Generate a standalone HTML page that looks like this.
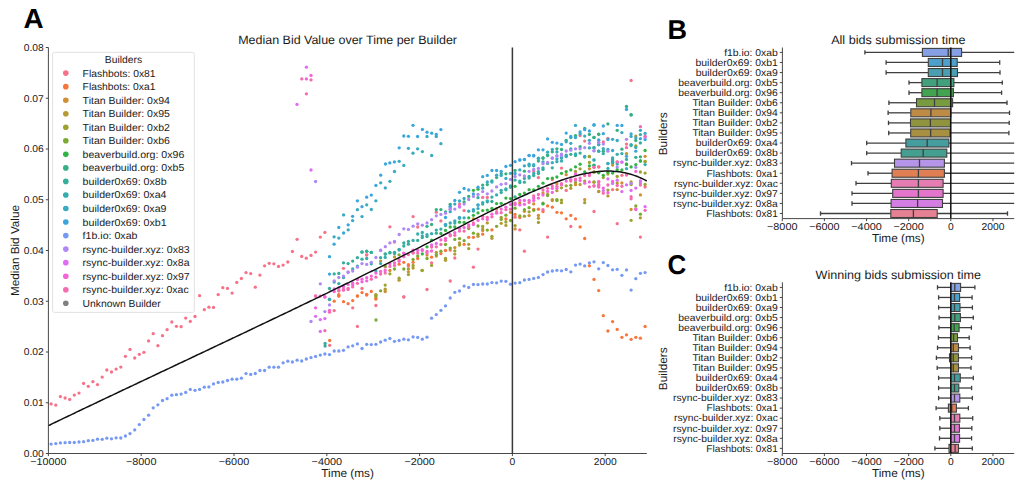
<!DOCTYPE html>
<html><head><meta charset="utf-8"><title>Median Bid Value over Time per Builder</title>
<style>html,body{margin:0;padding:0;background:#fff;overflow:hidden} svg{display:block} text{font-family:"Liberation Sans",sans-serif;text-rendering:geometricPrecision}</style>
</head><body>
<svg width="1024" height="490" viewBox="0 0 1024 490" font-family="Liberation Sans, sans-serif"><text x="23.60" y="27.60" font-size="27.56" text-anchor="start" font-weight="bold" textLength="20.12" lengthAdjust="spacingAndGlyphs" fill="#000">A</text>
<text x="347.60" y="44.20" font-size="12.18" text-anchor="middle" textLength="218.79" lengthAdjust="spacingAndGlyphs" fill="#1a1a1a">Median Bid Value over Time per Builder</text>
<g><circle cx="51.1" cy="403.9" r="1.65" fill="#f77189"/><circle cx="55.8" cy="405.1" r="1.65" fill="#f77189"/><circle cx="60.4" cy="396.6" r="1.65" fill="#f77189"/><circle cx="65.1" cy="398.0" r="1.65" fill="#f77189"/><circle cx="69.7" cy="399.4" r="1.65" fill="#f77189"/><circle cx="74.3" cy="395.1" r="1.65" fill="#f77189"/><circle cx="79.0" cy="393.1" r="1.65" fill="#f77189"/><circle cx="83.6" cy="383.4" r="1.65" fill="#f77189"/><circle cx="88.3" cy="386.3" r="1.65" fill="#f77189"/><circle cx="92.9" cy="381.7" r="1.65" fill="#f77189"/><circle cx="97.5" cy="384.6" r="1.65" fill="#f77189"/><circle cx="102.2" cy="377.1" r="1.65" fill="#f77189"/><circle cx="106.8" cy="370.0" r="1.65" fill="#f77189"/><circle cx="111.5" cy="372.0" r="1.65" fill="#f77189"/><circle cx="116.1" cy="369.1" r="1.65" fill="#f77189"/><circle cx="120.8" cy="367.1" r="1.65" fill="#f77189"/><circle cx="125.4" cy="356.3" r="1.65" fill="#f77189"/><circle cx="130.0" cy="349.4" r="1.65" fill="#f77189"/><circle cx="134.7" cy="358.0" r="1.65" fill="#f77189"/><circle cx="139.3" cy="354.3" r="1.65" fill="#f77189"/><circle cx="143.9" cy="352.3" r="1.65" fill="#f77189"/><circle cx="148.6" cy="340.9" r="1.65" fill="#f77189"/><circle cx="153.2" cy="333.7" r="1.65" fill="#f77189"/><circle cx="157.9" cy="345.7" r="1.65" fill="#f77189"/><circle cx="162.5" cy="335.7" r="1.65" fill="#f77189"/><circle cx="167.1" cy="329.7" r="1.65" fill="#f77189"/><circle cx="171.8" cy="322.0" r="1.65" fill="#f77189"/><circle cx="176.4" cy="326.3" r="1.65" fill="#f77189"/><circle cx="181.1" cy="326.7" r="1.65" fill="#f77189"/><circle cx="185.7" cy="318.1" r="1.65" fill="#f77189"/><circle cx="190.3" cy="321.4" r="1.65" fill="#f77189"/><circle cx="195.0" cy="316.5" r="1.65" fill="#f77189"/><circle cx="199.6" cy="295.7" r="1.65" fill="#f77189"/><circle cx="204.3" cy="309.7" r="1.65" fill="#f77189"/><circle cx="208.9" cy="307.2" r="1.65" fill="#f77189"/><circle cx="213.5" cy="307.4" r="1.65" fill="#f77189"/><circle cx="218.2" cy="294.6" r="1.65" fill="#f77189"/><circle cx="222.8" cy="287.7" r="1.65" fill="#f77189"/><circle cx="227.5" cy="288.4" r="1.65" fill="#f77189"/><circle cx="232.1" cy="293.1" r="1.65" fill="#f77189"/><circle cx="236.8" cy="282.4" r="1.65" fill="#f77189"/><circle cx="241.4" cy="278.5" r="1.65" fill="#f77189"/><circle cx="246.0" cy="272.6" r="1.65" fill="#f77189"/><circle cx="250.7" cy="273.6" r="1.65" fill="#f77189"/><circle cx="255.3" cy="287.2" r="1.65" fill="#f77189"/><circle cx="259.9" cy="275.1" r="1.65" fill="#f77189"/><circle cx="264.6" cy="265.8" r="1.65" fill="#f77189"/><circle cx="269.2" cy="263.3" r="1.65" fill="#f77189"/><circle cx="273.9" cy="263.8" r="1.65" fill="#f77189"/><circle cx="278.5" cy="266.4" r="1.65" fill="#f77189"/><circle cx="283.1" cy="265.1" r="1.65" fill="#f77189"/><circle cx="287.8" cy="262.0" r="1.65" fill="#f77189"/><circle cx="292.4" cy="251.5" r="1.65" fill="#f77189"/><circle cx="324.9" cy="232.4" r="1.65" fill="#f77189"/><circle cx="320.3" cy="237.1" r="1.65" fill="#f77189"/><circle cx="389.9" cy="226.8" r="1.65" fill="#f77189"/><circle cx="394.5" cy="242.1" r="1.65" fill="#f77189"/><circle cx="366.7" cy="255.0" r="1.65" fill="#f77189"/><circle cx="357.4" cy="326.4" r="1.65" fill="#f77189"/><circle cx="427.0" cy="289.5" r="1.65" fill="#f77189"/><circle cx="450.2" cy="281.0" r="1.65" fill="#f77189"/><circle cx="524.4" cy="251.2" r="1.65" fill="#f77189"/><circle cx="329.7" cy="345.3" r="1.65" fill="#f77189"/><circle cx="343.5" cy="268.3" r="1.65" fill="#f77189"/><circle cx="362.0" cy="288.5" r="1.65" fill="#f77189"/><circle cx="366.7" cy="254.8" r="1.65" fill="#f77189"/><circle cx="385.2" cy="266.9" r="1.65" fill="#f77189"/><circle cx="403.8" cy="297.0" r="1.65" fill="#f77189"/><circle cx="334.2" cy="310.6" r="1.65" fill="#f77189"/><circle cx="352.7" cy="307.8" r="1.65" fill="#f77189"/><circle cx="375.9" cy="305.5" r="1.65" fill="#f77189"/><circle cx="403.8" cy="296.8" r="1.65" fill="#f77189"/><circle cx="408.4" cy="266.0" r="1.65" fill="#f77189"/><circle cx="431.6" cy="262.8" r="1.65" fill="#f77189"/><circle cx="454.8" cy="258.0" r="1.65" fill="#f77189"/><circle cx="473.4" cy="267.2" r="1.65" fill="#f77189"/><circle cx="413.1" cy="216.6" r="1.65" fill="#f77189"/><circle cx="417.7" cy="227.0" r="1.65" fill="#f77189"/><circle cx="436.3" cy="212.2" r="1.65" fill="#f77189"/><circle cx="440.9" cy="220.9" r="1.65" fill="#f77189"/><circle cx="464.1" cy="210.6" r="1.65" fill="#f77189"/><circle cx="478.0" cy="249.1" r="1.65" fill="#f77189"/><circle cx="459.5" cy="204.1" r="1.65" fill="#f77189"/><circle cx="482.7" cy="197.4" r="1.65" fill="#f77189"/><circle cx="487.3" cy="197.4" r="1.65" fill="#f77189"/><circle cx="580.1" cy="135.6" r="1.65" fill="#f77189"/><circle cx="584.7" cy="141.1" r="1.65" fill="#f77189"/><circle cx="533.7" cy="171.0" r="1.65" fill="#f77189"/><circle cx="538.4" cy="177.6" r="1.65" fill="#f77189"/><circle cx="552.3" cy="179.6" r="1.65" fill="#f77189"/><circle cx="561.5" cy="168.1" r="1.65" fill="#f77189"/><circle cx="566.2" cy="190.4" r="1.65" fill="#f77189"/><circle cx="598.7" cy="166.8" r="1.65" fill="#f77189"/><circle cx="515.1" cy="217.2" r="1.65" fill="#f77189"/><circle cx="519.8" cy="229.9" r="1.65" fill="#f77189"/><circle cx="547.6" cy="237.1" r="1.65" fill="#f77189"/><circle cx="570.8" cy="226.5" r="1.65" fill="#f77189"/><circle cx="594.0" cy="211.5" r="1.65" fill="#f77189"/><circle cx="631.1" cy="80.5" r="1.65" fill="#f77189"/><circle cx="626.5" cy="144.1" r="1.65" fill="#f77189"/><circle cx="603.3" cy="142.0" r="1.65" fill="#f77189"/><circle cx="607.9" cy="138.3" r="1.65" fill="#f77189"/><circle cx="617.2" cy="162.1" r="1.65" fill="#f77189"/><circle cx="598.7" cy="166.9" r="1.65" fill="#f77189"/><circle cx="612.6" cy="189.6" r="1.65" fill="#f77189"/><circle cx="621.9" cy="175.3" r="1.65" fill="#f77189"/><circle cx="635.8" cy="208.8" r="1.65" fill="#f77189"/><circle cx="645.1" cy="187.0" r="1.65" fill="#f77189"/><circle cx="617.2" cy="223.7" r="1.65" fill="#f77189"/><circle cx="640.4" cy="237.1" r="1.65" fill="#f77189"/><circle cx="297.1" cy="239.3" r="1.65" fill="#f77189"/><circle cx="301.7" cy="256.4" r="1.65" fill="#f77189"/><circle cx="306.3" cy="258.2" r="1.65" fill="#f77189"/><circle cx="311.0" cy="255.4" r="1.65" fill="#f77189"/><circle cx="315.6" cy="252.1" r="1.65" fill="#f77189"/><circle cx="589.4" cy="265.8" r="1.65" fill="#f8763b"/><circle cx="594.0" cy="279.4" r="1.65" fill="#f8763b"/><circle cx="598.7" cy="290.6" r="1.65" fill="#f8763b"/><circle cx="603.3" cy="315.7" r="1.65" fill="#f8763b"/><circle cx="607.9" cy="331.0" r="1.65" fill="#f8763b"/><circle cx="612.6" cy="321.6" r="1.65" fill="#f8763b"/><circle cx="617.2" cy="329.4" r="1.65" fill="#f8763b"/><circle cx="621.9" cy="337.3" r="1.65" fill="#f8763b"/><circle cx="626.5" cy="334.8" r="1.65" fill="#f8763b"/><circle cx="631.1" cy="339.3" r="1.65" fill="#f8763b"/><circle cx="635.8" cy="337.3" r="1.65" fill="#f8763b"/><circle cx="640.4" cy="338.2" r="1.65" fill="#f8763b"/><circle cx="645.1" cy="326.5" r="1.65" fill="#f8763b"/><circle cx="329.7" cy="340.5" r="1.65" fill="#f8763b"/><circle cx="338.8" cy="294.6" r="1.65" fill="#f8763b"/><circle cx="338.8" cy="296.1" r="1.65" fill="#f8763b"/><circle cx="357.4" cy="296.1" r="1.65" fill="#f8763b"/><circle cx="362.0" cy="292.6" r="1.65" fill="#f8763b"/><circle cx="366.7" cy="294.3" r="1.65" fill="#f8763b"/><circle cx="371.3" cy="291.5" r="1.65" fill="#f8763b"/><circle cx="375.9" cy="299.0" r="1.65" fill="#f8763b"/><circle cx="399.1" cy="264.2" r="1.65" fill="#f8763b"/><circle cx="403.8" cy="262.3" r="1.65" fill="#f8763b"/><circle cx="334.2" cy="301.2" r="1.65" fill="#f8763b"/><circle cx="338.8" cy="295.8" r="1.65" fill="#f8763b"/><circle cx="343.5" cy="301.7" r="1.65" fill="#f8763b"/><circle cx="348.1" cy="303.7" r="1.65" fill="#f8763b"/><circle cx="352.7" cy="300.6" r="1.65" fill="#f8763b"/><circle cx="357.4" cy="296.0" r="1.65" fill="#f8763b"/><circle cx="366.7" cy="295.0" r="1.65" fill="#f8763b"/><circle cx="375.9" cy="298.6" r="1.65" fill="#f8763b"/><circle cx="408.4" cy="264.7" r="1.65" fill="#f8763b"/><circle cx="413.1" cy="262.3" r="1.65" fill="#f8763b"/><circle cx="417.7" cy="258.5" r="1.65" fill="#f8763b"/><circle cx="431.6" cy="257.2" r="1.65" fill="#f8763b"/><circle cx="440.9" cy="253.6" r="1.65" fill="#f8763b"/><circle cx="445.5" cy="250.5" r="1.65" fill="#f8763b"/><circle cx="450.2" cy="250.0" r="1.65" fill="#f8763b"/><circle cx="464.1" cy="244.3" r="1.65" fill="#f8763b"/><circle cx="468.7" cy="237.3" r="1.65" fill="#f8763b"/><circle cx="473.4" cy="237.3" r="1.65" fill="#f8763b"/><circle cx="482.7" cy="234.2" r="1.65" fill="#f8763b"/><circle cx="491.9" cy="229.9" r="1.65" fill="#f8763b"/><circle cx="505.9" cy="219.0" r="1.65" fill="#f8763b"/><circle cx="515.1" cy="214.4" r="1.65" fill="#f8763b"/><circle cx="519.8" cy="217.6" r="1.65" fill="#f8763b"/><circle cx="533.7" cy="209.4" r="1.65" fill="#f8763b"/><circle cx="538.4" cy="209.2" r="1.65" fill="#f8763b"/><circle cx="543.0" cy="211.5" r="1.65" fill="#f8763b"/><circle cx="547.6" cy="205.9" r="1.65" fill="#f8763b"/><circle cx="552.3" cy="207.2" r="1.65" fill="#f8763b"/><circle cx="556.9" cy="212.3" r="1.65" fill="#f8763b"/><circle cx="561.5" cy="212.8" r="1.65" fill="#f8763b"/><circle cx="566.2" cy="218.8" r="1.65" fill="#f8763b"/><circle cx="570.8" cy="215.4" r="1.65" fill="#f8763b"/><circle cx="575.5" cy="218.8" r="1.65" fill="#f8763b"/><circle cx="580.1" cy="226.9" r="1.65" fill="#f8763b"/><circle cx="584.7" cy="238.5" r="1.65" fill="#f8763b"/><circle cx="385.2" cy="291.5" r="1.65" fill="#d28e32"/><circle cx="389.9" cy="270.5" r="1.65" fill="#d28e32"/><circle cx="408.4" cy="271.8" r="1.65" fill="#d28e32"/><circle cx="427.0" cy="255.1" r="1.65" fill="#d28e32"/><circle cx="454.8" cy="247.6" r="1.65" fill="#d28e32"/><circle cx="473.4" cy="218.8" r="1.65" fill="#d28e32"/><circle cx="482.7" cy="230.6" r="1.65" fill="#d28e32"/><circle cx="543.0" cy="193.0" r="1.65" fill="#d28e32"/><circle cx="556.9" cy="183.7" r="1.65" fill="#d28e32"/><circle cx="566.2" cy="174.7" r="1.65" fill="#d28e32"/><circle cx="575.5" cy="184.7" r="1.65" fill="#d28e32"/><circle cx="584.7" cy="199.6" r="1.65" fill="#d28e32"/><circle cx="589.4" cy="168.8" r="1.65" fill="#d28e32"/><circle cx="510.5" cy="212.3" r="1.65" fill="#d28e32"/><circle cx="515.1" cy="228.9" r="1.65" fill="#d28e32"/><circle cx="519.8" cy="202.9" r="1.65" fill="#d28e32"/><circle cx="524.4" cy="211.3" r="1.65" fill="#d28e32"/><circle cx="529.1" cy="215.6" r="1.65" fill="#d28e32"/><circle cx="533.7" cy="203.9" r="1.65" fill="#d28e32"/><circle cx="538.4" cy="215.4" r="1.65" fill="#d28e32"/><circle cx="552.3" cy="200.5" r="1.65" fill="#d28e32"/><circle cx="645.1" cy="156.3" r="1.65" fill="#d28e32"/><circle cx="617.2" cy="189.6" r="1.65" fill="#d28e32"/><circle cx="621.9" cy="183.0" r="1.65" fill="#d28e32"/><circle cx="631.1" cy="209.5" r="1.65" fill="#d28e32"/><circle cx="640.4" cy="194.9" r="1.65" fill="#d28e32"/><circle cx="380.6" cy="261.1" r="1.65" fill="#b79932"/><circle cx="385.2" cy="289.2" r="1.65" fill="#b79932"/><circle cx="394.5" cy="257.0" r="1.65" fill="#b79932"/><circle cx="399.1" cy="280.2" r="1.65" fill="#b79932"/><circle cx="413.1" cy="268.0" r="1.65" fill="#b79932"/><circle cx="436.3" cy="252.3" r="1.65" fill="#b79932"/><circle cx="436.3" cy="256.0" r="1.65" fill="#b79932"/><circle cx="445.5" cy="260.3" r="1.65" fill="#b79932"/><circle cx="454.8" cy="254.1" r="1.65" fill="#b79932"/><circle cx="459.5" cy="242.9" r="1.65" fill="#b79932"/><circle cx="468.7" cy="244.3" r="1.65" fill="#b79932"/><circle cx="478.0" cy="236.3" r="1.65" fill="#b79932"/><circle cx="482.7" cy="229.1" r="1.65" fill="#b79932"/><circle cx="487.3" cy="222.9" r="1.65" fill="#b79932"/><circle cx="491.9" cy="238.3" r="1.65" fill="#b79932"/><circle cx="496.6" cy="208.6" r="1.65" fill="#b79932"/><circle cx="501.2" cy="223.3" r="1.65" fill="#b79932"/><circle cx="552.3" cy="199.6" r="1.65" fill="#b79932"/><circle cx="556.9" cy="190.7" r="1.65" fill="#b79932"/><circle cx="570.8" cy="188.3" r="1.65" fill="#b79932"/><circle cx="580.1" cy="184.5" r="1.65" fill="#b79932"/><circle cx="594.0" cy="182.2" r="1.65" fill="#b79932"/><circle cx="598.7" cy="191.4" r="1.65" fill="#b79932"/><circle cx="505.9" cy="225.4" r="1.65" fill="#b79932"/><circle cx="538.4" cy="218.3" r="1.65" fill="#b79932"/><circle cx="626.5" cy="153.6" r="1.65" fill="#b79932"/><circle cx="635.8" cy="136.1" r="1.65" fill="#b79932"/><circle cx="598.7" cy="191.6" r="1.65" fill="#b79932"/><circle cx="607.9" cy="195.9" r="1.65" fill="#b79932"/><circle cx="612.6" cy="165.1" r="1.65" fill="#b79932"/><circle cx="617.2" cy="183.0" r="1.65" fill="#b79932"/><circle cx="631.1" cy="181.9" r="1.65" fill="#b79932"/><circle cx="640.4" cy="217.8" r="1.65" fill="#b79932"/><circle cx="422.0" cy="270.5" r="1.65" fill="#9ea231"/><circle cx="375.9" cy="294.6" r="1.65" fill="#9ea231"/><circle cx="375.9" cy="296.7" r="1.65" fill="#9ea231"/><circle cx="385.2" cy="285.1" r="1.65" fill="#9ea231"/><circle cx="389.9" cy="273.8" r="1.65" fill="#9ea231"/><circle cx="399.1" cy="278.2" r="1.65" fill="#9ea231"/><circle cx="375.9" cy="295.5" r="1.65" fill="#9ea231"/><circle cx="408.4" cy="269.0" r="1.65" fill="#9ea231"/><circle cx="408.4" cy="274.6" r="1.65" fill="#9ea231"/><circle cx="413.1" cy="265.4" r="1.65" fill="#9ea231"/><circle cx="422.3" cy="270.3" r="1.65" fill="#9ea231"/><circle cx="431.6" cy="265.4" r="1.65" fill="#9ea231"/><circle cx="445.5" cy="258.5" r="1.65" fill="#9ea231"/><circle cx="454.8" cy="250.8" r="1.65" fill="#9ea231"/><circle cx="459.5" cy="245.0" r="1.65" fill="#9ea231"/><circle cx="468.7" cy="248.6" r="1.65" fill="#9ea231"/><circle cx="478.0" cy="234.2" r="1.65" fill="#9ea231"/><circle cx="482.7" cy="226.5" r="1.65" fill="#9ea231"/><circle cx="491.9" cy="236.3" r="1.65" fill="#9ea231"/><circle cx="501.2" cy="217.3" r="1.65" fill="#9ea231"/><circle cx="589.4" cy="156.7" r="1.65" fill="#9ea231"/><circle cx="543.0" cy="203.2" r="1.65" fill="#9ea231"/><circle cx="547.6" cy="194.5" r="1.65" fill="#9ea231"/><circle cx="561.5" cy="187.8" r="1.65" fill="#9ea231"/><circle cx="561.5" cy="200.1" r="1.65" fill="#9ea231"/><circle cx="561.5" cy="202.7" r="1.65" fill="#9ea231"/><circle cx="566.2" cy="185.8" r="1.65" fill="#9ea231"/><circle cx="575.5" cy="171.4" r="1.65" fill="#9ea231"/><circle cx="575.5" cy="182.5" r="1.65" fill="#9ea231"/><circle cx="580.1" cy="168.8" r="1.65" fill="#9ea231"/><circle cx="584.7" cy="181.1" r="1.65" fill="#9ea231"/><circle cx="584.7" cy="202.7" r="1.65" fill="#9ea231"/><circle cx="589.4" cy="156.5" r="1.65" fill="#9ea231"/><circle cx="589.4" cy="162.4" r="1.65" fill="#9ea231"/><circle cx="594.0" cy="171.9" r="1.65" fill="#9ea231"/><circle cx="505.9" cy="222.0" r="1.65" fill="#9ea231"/><circle cx="515.1" cy="225.6" r="1.65" fill="#9ea231"/><circle cx="524.4" cy="216.2" r="1.65" fill="#9ea231"/><circle cx="529.1" cy="211.8" r="1.65" fill="#9ea231"/><circle cx="538.4" cy="222.4" r="1.65" fill="#9ea231"/><circle cx="635.8" cy="146.0" r="1.65" fill="#9ea231"/><circle cx="645.1" cy="161.7" r="1.65" fill="#9ea231"/><circle cx="594.0" cy="172.2" r="1.65" fill="#9ea231"/><circle cx="594.0" cy="181.9" r="1.65" fill="#9ea231"/><circle cx="603.3" cy="177.6" r="1.65" fill="#9ea231"/><circle cx="607.9" cy="174.1" r="1.65" fill="#9ea231"/><circle cx="607.9" cy="190.1" r="1.65" fill="#9ea231"/><circle cx="617.2" cy="176.5" r="1.65" fill="#9ea231"/><circle cx="631.1" cy="184.5" r="1.65" fill="#9ea231"/><circle cx="640.4" cy="172.0" r="1.65" fill="#9ea231"/><circle cx="645.1" cy="161.5" r="1.65" fill="#9ea231"/><circle cx="645.1" cy="173.1" r="1.65" fill="#9ea231"/><circle cx="645.1" cy="184.5" r="1.65" fill="#9ea231"/><circle cx="631.1" cy="220.3" r="1.65" fill="#9ea231"/><circle cx="376.0" cy="320.0" r="1.65" fill="#7caa31"/><circle cx="380.6" cy="290.8" r="1.65" fill="#7caa31"/><circle cx="385.2" cy="265.9" r="1.65" fill="#7caa31"/><circle cx="394.5" cy="269.0" r="1.65" fill="#7caa31"/><circle cx="399.1" cy="254.8" r="1.65" fill="#7caa31"/><circle cx="403.8" cy="269.0" r="1.65" fill="#7caa31"/><circle cx="413.1" cy="259.4" r="1.65" fill="#7caa31"/><circle cx="417.7" cy="256.0" r="1.65" fill="#7caa31"/><circle cx="427.0" cy="258.5" r="1.65" fill="#7caa31"/><circle cx="436.3" cy="254.6" r="1.65" fill="#7caa31"/><circle cx="440.9" cy="251.2" r="1.65" fill="#7caa31"/><circle cx="445.5" cy="244.5" r="1.65" fill="#7caa31"/><circle cx="450.2" cy="248.1" r="1.65" fill="#7caa31"/><circle cx="454.8" cy="239.4" r="1.65" fill="#7caa31"/><circle cx="459.5" cy="238.6" r="1.65" fill="#7caa31"/><circle cx="464.1" cy="240.7" r="1.65" fill="#7caa31"/><circle cx="468.7" cy="228.6" r="1.65" fill="#7caa31"/><circle cx="473.4" cy="233.2" r="1.65" fill="#7caa31"/><circle cx="478.0" cy="226.0" r="1.65" fill="#7caa31"/><circle cx="487.3" cy="230.1" r="1.65" fill="#7caa31"/><circle cx="496.6" cy="226.3" r="1.65" fill="#7caa31"/><circle cx="501.2" cy="219.4" r="1.65" fill="#7caa31"/><circle cx="547.6" cy="195.6" r="1.65" fill="#7caa31"/><circle cx="556.9" cy="199.6" r="1.65" fill="#7caa31"/><circle cx="570.8" cy="185.3" r="1.65" fill="#7caa31"/><circle cx="505.9" cy="215.2" r="1.65" fill="#7caa31"/><circle cx="510.5" cy="220.5" r="1.65" fill="#7caa31"/><circle cx="515.1" cy="208.2" r="1.65" fill="#7caa31"/><circle cx="519.8" cy="215.9" r="1.65" fill="#7caa31"/><circle cx="524.4" cy="209.7" r="1.65" fill="#7caa31"/><circle cx="529.1" cy="207.7" r="1.65" fill="#7caa31"/><circle cx="533.7" cy="210.3" r="1.65" fill="#7caa31"/><circle cx="556.9" cy="200.5" r="1.65" fill="#7caa31"/><circle cx="635.8" cy="205.9" r="1.65" fill="#7caa31"/><circle cx="640.4" cy="214.2" r="1.65" fill="#7caa31"/><circle cx="422.3" cy="253.9" r="1.65" fill="#31b345"/><circle cx="427.0" cy="246.8" r="1.65" fill="#31b345"/><circle cx="431.6" cy="240.1" r="1.65" fill="#31b345"/><circle cx="440.9" cy="233.5" r="1.65" fill="#31b345"/><circle cx="445.5" cy="230.4" r="1.65" fill="#31b345"/><circle cx="450.2" cy="227.0" r="1.65" fill="#31b345"/><circle cx="454.8" cy="227.0" r="1.65" fill="#31b345"/><circle cx="459.5" cy="222.2" r="1.65" fill="#31b345"/><circle cx="464.1" cy="222.4" r="1.65" fill="#31b345"/><circle cx="468.7" cy="217.8" r="1.65" fill="#31b345"/><circle cx="473.4" cy="215.3" r="1.65" fill="#31b345"/><circle cx="478.0" cy="212.9" r="1.65" fill="#31b345"/><circle cx="482.7" cy="210.6" r="1.65" fill="#31b345"/><circle cx="487.3" cy="210.1" r="1.65" fill="#31b345"/><circle cx="491.9" cy="208.4" r="1.65" fill="#31b345"/><circle cx="473.4" cy="190.3" r="1.65" fill="#31b345"/><circle cx="478.0" cy="189.2" r="1.65" fill="#31b345"/><circle cx="496.6" cy="203.6" r="1.65" fill="#31b345"/><circle cx="501.2" cy="203.3" r="1.65" fill="#31b345"/><circle cx="505.9" cy="198.1" r="1.65" fill="#31b345"/><circle cx="510.5" cy="198.6" r="1.65" fill="#31b345"/><circle cx="515.1" cy="186.3" r="1.65" fill="#31b345"/><circle cx="519.8" cy="194.5" r="1.65" fill="#31b345"/><circle cx="524.4" cy="193.1" r="1.65" fill="#31b345"/><circle cx="529.1" cy="189.7" r="1.65" fill="#31b345"/><circle cx="533.7" cy="189.9" r="1.65" fill="#31b345"/><circle cx="538.4" cy="186.3" r="1.65" fill="#31b345"/><circle cx="543.0" cy="183.2" r="1.65" fill="#31b345"/><circle cx="547.6" cy="178.6" r="1.65" fill="#31b345"/><circle cx="552.3" cy="178.1" r="1.65" fill="#31b345"/><circle cx="556.9" cy="177.0" r="1.65" fill="#31b345"/><circle cx="561.5" cy="173.3" r="1.65" fill="#31b345"/><circle cx="566.2" cy="171.6" r="1.65" fill="#31b345"/><circle cx="570.8" cy="169.9" r="1.65" fill="#31b345"/><circle cx="575.5" cy="166.8" r="1.65" fill="#31b345"/><circle cx="580.1" cy="164.2" r="1.65" fill="#31b345"/><circle cx="584.7" cy="171.9" r="1.65" fill="#31b345"/><circle cx="589.4" cy="165.8" r="1.65" fill="#31b345"/><circle cx="594.0" cy="165.3" r="1.65" fill="#31b345"/><circle cx="598.7" cy="172.4" r="1.65" fill="#31b345"/><circle cx="543.0" cy="203.9" r="1.65" fill="#31b345"/><circle cx="626.5" cy="164.0" r="1.65" fill="#31b345"/><circle cx="640.4" cy="160.9" r="1.65" fill="#31b345"/><circle cx="645.1" cy="150.5" r="1.65" fill="#31b345"/><circle cx="598.7" cy="172.8" r="1.65" fill="#31b345"/><circle cx="603.3" cy="175.3" r="1.65" fill="#31b345"/><circle cx="607.9" cy="172.2" r="1.65" fill="#31b345"/><circle cx="612.6" cy="173.1" r="1.65" fill="#31b345"/><circle cx="617.2" cy="169.7" r="1.65" fill="#31b345"/><circle cx="621.9" cy="170.0" r="1.65" fill="#31b345"/><circle cx="626.5" cy="164.6" r="1.65" fill="#31b345"/><circle cx="631.1" cy="166.9" r="1.65" fill="#31b345"/><circle cx="635.8" cy="164.6" r="1.65" fill="#31b345"/><circle cx="640.4" cy="161.0" r="1.65" fill="#31b345"/><circle cx="427.0" cy="226.3" r="1.65" fill="#34b081"/><circle cx="431.6" cy="224.5" r="1.65" fill="#34b081"/><circle cx="436.3" cy="209.6" r="1.65" fill="#34b081"/><circle cx="440.9" cy="209.6" r="1.65" fill="#34b081"/><circle cx="445.5" cy="212.0" r="1.65" fill="#34b081"/><circle cx="450.2" cy="204.3" r="1.65" fill="#34b081"/><circle cx="464.1" cy="202.0" r="1.65" fill="#34b081"/><circle cx="468.7" cy="196.4" r="1.65" fill="#34b081"/><circle cx="482.7" cy="185.1" r="1.65" fill="#34b081"/><circle cx="487.3" cy="184.6" r="1.65" fill="#34b081"/><circle cx="491.9" cy="181.0" r="1.65" fill="#34b081"/><circle cx="496.6" cy="177.6" r="1.65" fill="#34b081"/><circle cx="501.2" cy="173.8" r="1.65" fill="#34b081"/><circle cx="543.0" cy="158.0" r="1.65" fill="#34b081"/><circle cx="547.6" cy="155.1" r="1.65" fill="#34b081"/><circle cx="552.3" cy="151.8" r="1.65" fill="#34b081"/><circle cx="556.9" cy="148.8" r="1.65" fill="#34b081"/><circle cx="561.5" cy="149.5" r="1.65" fill="#34b081"/><circle cx="566.2" cy="140.3" r="1.65" fill="#34b081"/><circle cx="570.8" cy="137.6" r="1.65" fill="#34b081"/><circle cx="575.5" cy="135.6" r="1.65" fill="#34b081"/><circle cx="580.1" cy="146.7" r="1.65" fill="#34b081"/><circle cx="584.7" cy="128.3" r="1.65" fill="#34b081"/><circle cx="584.7" cy="157.0" r="1.65" fill="#34b081"/><circle cx="589.4" cy="134.4" r="1.65" fill="#34b081"/><circle cx="594.0" cy="137.5" r="1.65" fill="#34b081"/><circle cx="598.7" cy="134.3" r="1.65" fill="#34b081"/><circle cx="505.9" cy="173.8" r="1.65" fill="#34b081"/><circle cx="515.1" cy="170.4" r="1.65" fill="#34b081"/><circle cx="515.1" cy="197.0" r="1.65" fill="#34b081"/><circle cx="524.4" cy="171.2" r="1.65" fill="#34b081"/><circle cx="538.4" cy="161.0" r="1.65" fill="#34b081"/><circle cx="543.0" cy="158.1" r="1.65" fill="#34b081"/><circle cx="547.6" cy="155.5" r="1.65" fill="#34b081"/><circle cx="631.1" cy="114.7" r="1.65" fill="#34b081"/><circle cx="631.1" cy="115.0" r="1.65" fill="#34b081"/><circle cx="626.5" cy="106.5" r="1.65" fill="#34b081"/><circle cx="594.0" cy="137.4" r="1.65" fill="#34b081"/><circle cx="598.7" cy="134.1" r="1.65" fill="#34b081"/><circle cx="603.3" cy="151.2" r="1.65" fill="#34b081"/><circle cx="607.9" cy="123.9" r="1.65" fill="#34b081"/><circle cx="612.6" cy="159.9" r="1.65" fill="#34b081"/><circle cx="617.2" cy="130.3" r="1.65" fill="#34b081"/><circle cx="621.9" cy="149.2" r="1.65" fill="#34b081"/><circle cx="635.8" cy="140.5" r="1.65" fill="#34b081"/><circle cx="640.4" cy="156.8" r="1.65" fill="#34b081"/><circle cx="594.0" cy="165.1" r="1.65" fill="#34b081"/><circle cx="362.0" cy="252.2" r="1.65" fill="#35ae9a"/><circle cx="366.7" cy="251.3" r="1.65" fill="#35ae9a"/><circle cx="371.3" cy="252.4" r="1.65" fill="#35ae9a"/><circle cx="399.2" cy="249.3" r="1.65" fill="#35ae9a"/><circle cx="389.9" cy="252.4" r="1.65" fill="#35ae9a"/><circle cx="394.5" cy="252.4" r="1.65" fill="#35ae9a"/><circle cx="385.3" cy="254.0" r="1.65" fill="#35ae9a"/><circle cx="403.8" cy="243.0" r="1.65" fill="#35ae9a"/><circle cx="403.8" cy="246.0" r="1.65" fill="#35ae9a"/><circle cx="325.1" cy="343.5" r="1.65" fill="#35ae9a"/><circle cx="325.1" cy="346.0" r="1.65" fill="#35ae9a"/><circle cx="329.5" cy="288.5" r="1.65" fill="#35ae9a"/><circle cx="334.2" cy="273.9" r="1.65" fill="#35ae9a"/><circle cx="338.8" cy="273.4" r="1.65" fill="#35ae9a"/><circle cx="343.5" cy="262.8" r="1.65" fill="#35ae9a"/><circle cx="348.1" cy="263.6" r="1.65" fill="#35ae9a"/><circle cx="352.7" cy="261.1" r="1.65" fill="#35ae9a"/><circle cx="357.4" cy="257.7" r="1.65" fill="#35ae9a"/><circle cx="362.0" cy="251.8" r="1.65" fill="#35ae9a"/><circle cx="362.0" cy="259.2" r="1.65" fill="#35ae9a"/><circle cx="366.7" cy="251.2" r="1.65" fill="#35ae9a"/><circle cx="371.3" cy="252.3" r="1.65" fill="#35ae9a"/><circle cx="380.6" cy="257.7" r="1.65" fill="#35ae9a"/><circle cx="385.2" cy="254.1" r="1.65" fill="#35ae9a"/><circle cx="389.9" cy="252.9" r="1.65" fill="#35ae9a"/><circle cx="394.5" cy="252.6" r="1.65" fill="#35ae9a"/><circle cx="408.4" cy="241.4" r="1.65" fill="#35ae9a"/><circle cx="408.4" cy="244.2" r="1.65" fill="#35ae9a"/><circle cx="417.7" cy="240.4" r="1.65" fill="#35ae9a"/><circle cx="422.3" cy="237.6" r="1.65" fill="#35ae9a"/><circle cx="427.0" cy="236.6" r="1.65" fill="#35ae9a"/><circle cx="436.3" cy="233.2" r="1.65" fill="#35ae9a"/><circle cx="478.0" cy="205.1" r="1.65" fill="#35ae9a"/><circle cx="482.7" cy="204.1" r="1.65" fill="#35ae9a"/><circle cx="487.3" cy="201.8" r="1.65" fill="#35ae9a"/><circle cx="491.9" cy="201.5" r="1.65" fill="#35ae9a"/><circle cx="501.2" cy="192.6" r="1.65" fill="#35ae9a"/><circle cx="566.2" cy="156.6" r="1.65" fill="#35ae9a"/><circle cx="570.8" cy="154.3" r="1.65" fill="#35ae9a"/><circle cx="575.5" cy="155.6" r="1.65" fill="#35ae9a"/><circle cx="580.1" cy="153.1" r="1.65" fill="#35ae9a"/><circle cx="505.9" cy="189.8" r="1.65" fill="#35ae9a"/><circle cx="510.5" cy="187.3" r="1.65" fill="#35ae9a"/><circle cx="519.8" cy="182.6" r="1.65" fill="#35ae9a"/><circle cx="524.4" cy="182.2" r="1.65" fill="#35ae9a"/><circle cx="529.1" cy="178.0" r="1.65" fill="#35ae9a"/><circle cx="533.7" cy="175.5" r="1.65" fill="#35ae9a"/><circle cx="538.4" cy="173.5" r="1.65" fill="#35ae9a"/><circle cx="543.0" cy="169.4" r="1.65" fill="#35ae9a"/><circle cx="631.1" cy="145.6" r="1.65" fill="#35ae9a"/><circle cx="594.0" cy="147.7" r="1.65" fill="#35ae9a"/><circle cx="598.7" cy="144.6" r="1.65" fill="#35ae9a"/><circle cx="612.6" cy="162.4" r="1.65" fill="#35ae9a"/><circle cx="635.8" cy="157.3" r="1.65" fill="#35ae9a"/><circle cx="640.4" cy="142.9" r="1.65" fill="#35ae9a"/><circle cx="612.6" cy="162.5" r="1.65" fill="#35ae9a"/><circle cx="329.5" cy="299.2" r="1.65" fill="#36acad"/><circle cx="334.2" cy="282.1" r="1.65" fill="#36acad"/><circle cx="338.8" cy="283.6" r="1.65" fill="#36acad"/><circle cx="343.5" cy="277.5" r="1.65" fill="#36acad"/><circle cx="352.7" cy="269.0" r="1.65" fill="#36acad"/><circle cx="357.4" cy="266.1" r="1.65" fill="#36acad"/><circle cx="366.7" cy="258.5" r="1.65" fill="#36acad"/><circle cx="371.3" cy="263.8" r="1.65" fill="#36acad"/><circle cx="375.9" cy="271.0" r="1.65" fill="#36acad"/><circle cx="380.6" cy="263.6" r="1.65" fill="#36acad"/><circle cx="385.2" cy="257.4" r="1.65" fill="#36acad"/><circle cx="394.5" cy="253.6" r="1.65" fill="#36acad"/><circle cx="399.1" cy="250.0" r="1.65" fill="#36acad"/><circle cx="329.5" cy="299.6" r="1.65" fill="#36acad"/><circle cx="413.1" cy="240.4" r="1.65" fill="#36acad"/><circle cx="417.7" cy="234.0" r="1.65" fill="#36acad"/><circle cx="422.3" cy="232.5" r="1.65" fill="#36acad"/><circle cx="422.3" cy="235.8" r="1.65" fill="#36acad"/><circle cx="427.0" cy="234.7" r="1.65" fill="#36acad"/><circle cx="431.6" cy="233.7" r="1.65" fill="#36acad"/><circle cx="436.3" cy="230.1" r="1.65" fill="#36acad"/><circle cx="440.9" cy="229.1" r="1.65" fill="#36acad"/><circle cx="445.5" cy="225.5" r="1.65" fill="#36acad"/><circle cx="450.2" cy="223.0" r="1.65" fill="#36acad"/><circle cx="454.8" cy="223.0" r="1.65" fill="#36acad"/><circle cx="459.5" cy="218.3" r="1.65" fill="#36acad"/><circle cx="473.4" cy="211.0" r="1.65" fill="#36acad"/><circle cx="478.0" cy="197.7" r="1.65" fill="#36acad"/><circle cx="482.7" cy="202.6" r="1.65" fill="#36acad"/><circle cx="487.3" cy="200.8" r="1.65" fill="#36acad"/><circle cx="491.9" cy="197.1" r="1.65" fill="#36acad"/><circle cx="496.6" cy="194.9" r="1.65" fill="#36acad"/><circle cx="501.2" cy="190.3" r="1.65" fill="#36acad"/><circle cx="538.4" cy="158.2" r="1.65" fill="#36acad"/><circle cx="561.5" cy="157.7" r="1.65" fill="#36acad"/><circle cx="566.2" cy="155.1" r="1.65" fill="#36acad"/><circle cx="570.8" cy="148.8" r="1.65" fill="#36acad"/><circle cx="575.5" cy="153.9" r="1.65" fill="#36acad"/><circle cx="589.4" cy="147.9" r="1.65" fill="#36acad"/><circle cx="594.0" cy="147.7" r="1.65" fill="#36acad"/><circle cx="598.7" cy="151.2" r="1.65" fill="#36acad"/><circle cx="505.9" cy="188.8" r="1.65" fill="#36acad"/><circle cx="510.5" cy="185.8" r="1.65" fill="#36acad"/><circle cx="515.1" cy="180.1" r="1.65" fill="#36acad"/><circle cx="519.8" cy="181.1" r="1.65" fill="#36acad"/><circle cx="524.4" cy="178.4" r="1.65" fill="#36acad"/><circle cx="529.1" cy="165.8" r="1.65" fill="#36acad"/><circle cx="529.1" cy="176.5" r="1.65" fill="#36acad"/><circle cx="533.7" cy="165.8" r="1.65" fill="#36acad"/><circle cx="533.7" cy="173.3" r="1.65" fill="#36acad"/><circle cx="538.4" cy="171.6" r="1.65" fill="#36acad"/><circle cx="543.0" cy="167.8" r="1.65" fill="#36acad"/><circle cx="547.6" cy="163.4" r="1.65" fill="#36acad"/><circle cx="552.3" cy="167.8" r="1.65" fill="#36acad"/><circle cx="556.9" cy="161.7" r="1.65" fill="#36acad"/><circle cx="561.5" cy="161.0" r="1.65" fill="#36acad"/><circle cx="631.1" cy="144.6" r="1.65" fill="#36acad"/><circle cx="626.5" cy="159.4" r="1.65" fill="#36acad"/><circle cx="594.0" cy="159.9" r="1.65" fill="#36acad"/><circle cx="598.7" cy="151.2" r="1.65" fill="#36acad"/><circle cx="603.3" cy="153.6" r="1.65" fill="#36acad"/><circle cx="607.9" cy="163.5" r="1.65" fill="#36acad"/><circle cx="612.6" cy="157.9" r="1.65" fill="#36acad"/><circle cx="617.2" cy="154.3" r="1.65" fill="#36acad"/><circle cx="621.9" cy="153.6" r="1.65" fill="#36acad"/><circle cx="635.8" cy="147.4" r="1.65" fill="#36acad"/><circle cx="640.4" cy="134.6" r="1.65" fill="#36acad"/><circle cx="607.9" cy="168.4" r="1.65" fill="#36acad"/><circle cx="612.6" cy="161.0" r="1.65" fill="#36acad"/><circle cx="617.2" cy="163.9" r="1.65" fill="#36acad"/><circle cx="645.1" cy="164.6" r="1.65" fill="#36acad"/><circle cx="427.0" cy="136.5" r="1.65" fill="#38aac1"/><circle cx="436.3" cy="136.5" r="1.65" fill="#38aac1"/><circle cx="440.9" cy="143.7" r="1.65" fill="#38aac1"/><circle cx="408.4" cy="148.3" r="1.65" fill="#38aac1"/><circle cx="413.0" cy="153.2" r="1.65" fill="#38aac1"/><circle cx="417.6" cy="148.8" r="1.65" fill="#38aac1"/><circle cx="422.4" cy="151.6" r="1.65" fill="#38aac1"/><circle cx="431.7" cy="155.5" r="1.65" fill="#38aac1"/><circle cx="399.2" cy="161.3" r="1.65" fill="#38aac1"/><circle cx="403.8" cy="165.4" r="1.65" fill="#38aac1"/><circle cx="394.5" cy="171.5" r="1.65" fill="#38aac1"/><circle cx="389.9" cy="181.3" r="1.65" fill="#38aac1"/><circle cx="380.7" cy="182.8" r="1.65" fill="#38aac1"/><circle cx="385.3" cy="187.9" r="1.65" fill="#38aac1"/><circle cx="375.9" cy="200.8" r="1.65" fill="#38aac1"/><circle cx="366.7" cy="204.8" r="1.65" fill="#38aac1"/><circle cx="357.4" cy="209.7" r="1.65" fill="#38aac1"/><circle cx="371.3" cy="209.5" r="1.65" fill="#38aac1"/><circle cx="343.6" cy="214.9" r="1.65" fill="#38aac1"/><circle cx="362.0" cy="216.6" r="1.65" fill="#38aac1"/><circle cx="352.6" cy="220.6" r="1.65" fill="#38aac1"/><circle cx="348.2" cy="229.8" r="1.65" fill="#38aac1"/><circle cx="334.1" cy="236.8" r="1.65" fill="#38aac1"/><circle cx="338.8" cy="238.1" r="1.65" fill="#38aac1"/><circle cx="445.5" cy="224.3" r="1.65" fill="#38aac1"/><circle cx="450.2" cy="211.7" r="1.65" fill="#38aac1"/><circle cx="454.8" cy="220.9" r="1.65" fill="#38aac1"/><circle cx="459.5" cy="217.3" r="1.65" fill="#38aac1"/><circle cx="464.1" cy="217.8" r="1.65" fill="#38aac1"/><circle cx="468.7" cy="211.2" r="1.65" fill="#38aac1"/><circle cx="473.4" cy="209.6" r="1.65" fill="#38aac1"/><circle cx="478.0" cy="208.6" r="1.65" fill="#38aac1"/><circle cx="454.8" cy="204.1" r="1.65" fill="#38aac1"/><circle cx="459.5" cy="201.0" r="1.65" fill="#38aac1"/><circle cx="464.1" cy="198.5" r="1.65" fill="#38aac1"/><circle cx="482.7" cy="188.2" r="1.65" fill="#38aac1"/><circle cx="487.3" cy="182.0" r="1.65" fill="#38aac1"/><circle cx="491.9" cy="182.0" r="1.65" fill="#38aac1"/><circle cx="496.6" cy="175.2" r="1.65" fill="#38aac1"/><circle cx="501.2" cy="175.4" r="1.65" fill="#38aac1"/><circle cx="547.6" cy="152.2" r="1.65" fill="#38aac1"/><circle cx="552.3" cy="149.5" r="1.65" fill="#38aac1"/><circle cx="556.9" cy="152.0" r="1.65" fill="#38aac1"/><circle cx="566.2" cy="141.8" r="1.65" fill="#38aac1"/><circle cx="570.8" cy="143.3" r="1.65" fill="#38aac1"/><circle cx="575.5" cy="137.5" r="1.65" fill="#38aac1"/><circle cx="580.1" cy="133.8" r="1.65" fill="#38aac1"/><circle cx="584.7" cy="136.1" r="1.65" fill="#38aac1"/><circle cx="589.4" cy="140.3" r="1.65" fill="#38aac1"/><circle cx="598.7" cy="144.7" r="1.65" fill="#38aac1"/><circle cx="505.9" cy="178.4" r="1.65" fill="#38aac1"/><circle cx="510.5" cy="173.3" r="1.65" fill="#38aac1"/><circle cx="519.8" cy="169.9" r="1.65" fill="#38aac1"/><circle cx="524.4" cy="165.8" r="1.65" fill="#38aac1"/><circle cx="529.1" cy="164.2" r="1.65" fill="#38aac1"/><circle cx="533.7" cy="164.7" r="1.65" fill="#38aac1"/><circle cx="538.4" cy="158.6" r="1.65" fill="#38aac1"/><circle cx="543.0" cy="162.0" r="1.65" fill="#38aac1"/><circle cx="552.3" cy="162.7" r="1.65" fill="#38aac1"/><circle cx="556.9" cy="159.1" r="1.65" fill="#38aac1"/><circle cx="561.5" cy="158.1" r="1.65" fill="#38aac1"/><circle cx="566.2" cy="156.0" r="1.65" fill="#38aac1"/><circle cx="584.7" cy="156.5" r="1.65" fill="#38aac1"/><circle cx="594.0" cy="160.1" r="1.65" fill="#38aac1"/><circle cx="631.1" cy="136.4" r="1.65" fill="#38aac1"/><circle cx="603.3" cy="148.7" r="1.65" fill="#38aac1"/><circle cx="607.9" cy="149.5" r="1.65" fill="#38aac1"/><circle cx="612.6" cy="139.3" r="1.65" fill="#38aac1"/><circle cx="612.6" cy="150.5" r="1.65" fill="#38aac1"/><circle cx="617.2" cy="140.5" r="1.65" fill="#38aac1"/><circle cx="621.9" cy="132.6" r="1.65" fill="#38aac1"/><circle cx="635.8" cy="138.0" r="1.65" fill="#38aac1"/><circle cx="640.4" cy="130.3" r="1.65" fill="#38aac1"/><circle cx="645.1" cy="133.4" r="1.65" fill="#38aac1"/><circle cx="607.9" cy="163.6" r="1.65" fill="#38aac1"/><circle cx="626.5" cy="168.7" r="1.65" fill="#38aac1"/><circle cx="413.0" cy="125.3" r="1.65" fill="#3aa6dd"/><circle cx="422.4" cy="129.4" r="1.65" fill="#3aa6dd"/><circle cx="427.0" cy="132.2" r="1.65" fill="#3aa6dd"/><circle cx="431.7" cy="133.2" r="1.65" fill="#3aa6dd"/><circle cx="436.3" cy="134.3" r="1.65" fill="#3aa6dd"/><circle cx="440.9" cy="129.6" r="1.65" fill="#3aa6dd"/><circle cx="403.8" cy="136.0" r="1.65" fill="#3aa6dd"/><circle cx="408.4" cy="136.3" r="1.65" fill="#3aa6dd"/><circle cx="417.6" cy="136.5" r="1.65" fill="#3aa6dd"/><circle cx="399.2" cy="147.8" r="1.65" fill="#3aa6dd"/><circle cx="385.5" cy="164.0" r="1.65" fill="#3aa6dd"/><circle cx="389.8" cy="162.9" r="1.65" fill="#3aa6dd"/><circle cx="394.4" cy="161.9" r="1.65" fill="#3aa6dd"/><circle cx="380.7" cy="175.2" r="1.65" fill="#3aa6dd"/><circle cx="375.9" cy="185.4" r="1.65" fill="#3aa6dd"/><circle cx="371.3" cy="195.1" r="1.65" fill="#3aa6dd"/><circle cx="366.7" cy="197.2" r="1.65" fill="#3aa6dd"/><circle cx="357.4" cy="200.8" r="1.65" fill="#3aa6dd"/><circle cx="362.0" cy="206.7" r="1.65" fill="#3aa6dd"/><circle cx="352.6" cy="216.3" r="1.65" fill="#3aa6dd"/><circle cx="348.2" cy="224.8" r="1.65" fill="#3aa6dd"/><circle cx="338.8" cy="227.4" r="1.65" fill="#3aa6dd"/><circle cx="343.6" cy="233.0" r="1.65" fill="#3aa6dd"/><circle cx="334.1" cy="244.2" r="1.65" fill="#3aa6dd"/><circle cx="329.5" cy="256.7" r="1.65" fill="#3aa6dd"/><circle cx="329.5" cy="274.1" r="1.65" fill="#3aa6dd"/><circle cx="445.5" cy="217.5" r="1.65" fill="#3aa6dd"/><circle cx="450.2" cy="206.5" r="1.65" fill="#3aa6dd"/><circle cx="478.0" cy="205.0" r="1.65" fill="#3aa6dd"/><circle cx="450.2" cy="207.0" r="1.65" fill="#3aa6dd"/><circle cx="454.8" cy="200.5" r="1.65" fill="#3aa6dd"/><circle cx="459.5" cy="192.3" r="1.65" fill="#3aa6dd"/><circle cx="464.1" cy="188.5" r="1.65" fill="#3aa6dd"/><circle cx="468.7" cy="190.0" r="1.65" fill="#3aa6dd"/><circle cx="473.4" cy="194.0" r="1.65" fill="#3aa6dd"/><circle cx="478.0" cy="187.2" r="1.65" fill="#3aa6dd"/><circle cx="482.7" cy="176.7" r="1.65" fill="#3aa6dd"/><circle cx="487.3" cy="175.4" r="1.65" fill="#3aa6dd"/><circle cx="491.9" cy="170.5" r="1.65" fill="#3aa6dd"/><circle cx="496.6" cy="170.5" r="1.65" fill="#3aa6dd"/><circle cx="501.2" cy="171.5" r="1.65" fill="#3aa6dd"/><circle cx="519.8" cy="160.0" r="1.65" fill="#3aa6dd"/><circle cx="524.4" cy="159.4" r="1.65" fill="#3aa6dd"/><circle cx="529.1" cy="155.6" r="1.65" fill="#3aa6dd"/><circle cx="533.7" cy="155.9" r="1.65" fill="#3aa6dd"/><circle cx="538.4" cy="149.8" r="1.65" fill="#3aa6dd"/><circle cx="543.0" cy="149.8" r="1.65" fill="#3aa6dd"/><circle cx="547.6" cy="138.9" r="1.65" fill="#3aa6dd"/><circle cx="552.3" cy="142.3" r="1.65" fill="#3aa6dd"/><circle cx="556.9" cy="143.1" r="1.65" fill="#3aa6dd"/><circle cx="561.5" cy="144.4" r="1.65" fill="#3aa6dd"/><circle cx="566.2" cy="133.1" r="1.65" fill="#3aa6dd"/><circle cx="570.8" cy="136.5" r="1.65" fill="#3aa6dd"/><circle cx="575.5" cy="125.4" r="1.65" fill="#3aa6dd"/><circle cx="580.1" cy="131.8" r="1.65" fill="#3aa6dd"/><circle cx="584.7" cy="129.7" r="1.65" fill="#3aa6dd"/><circle cx="589.4" cy="131.0" r="1.65" fill="#3aa6dd"/><circle cx="594.0" cy="125.2" r="1.65" fill="#3aa6dd"/><circle cx="598.7" cy="140.3" r="1.65" fill="#3aa6dd"/><circle cx="505.9" cy="166.5" r="1.65" fill="#3aa6dd"/><circle cx="510.5" cy="165.3" r="1.65" fill="#3aa6dd"/><circle cx="515.1" cy="161.7" r="1.65" fill="#3aa6dd"/><circle cx="515.1" cy="173.5" r="1.65" fill="#3aa6dd"/><circle cx="519.8" cy="159.9" r="1.65" fill="#3aa6dd"/><circle cx="524.4" cy="159.6" r="1.65" fill="#3aa6dd"/><circle cx="529.1" cy="155.5" r="1.65" fill="#3aa6dd"/><circle cx="533.7" cy="155.5" r="1.65" fill="#3aa6dd"/><circle cx="631.1" cy="133.9" r="1.65" fill="#3aa6dd"/><circle cx="626.5" cy="109.4" r="1.65" fill="#3aa6dd"/><circle cx="626.5" cy="156.3" r="1.65" fill="#3aa6dd"/><circle cx="594.0" cy="124.7" r="1.65" fill="#3aa6dd"/><circle cx="598.7" cy="140.0" r="1.65" fill="#3aa6dd"/><circle cx="603.3" cy="126.0" r="1.65" fill="#3aa6dd"/><circle cx="603.3" cy="133.7" r="1.65" fill="#3aa6dd"/><circle cx="607.9" cy="139.5" r="1.65" fill="#3aa6dd"/><circle cx="617.2" cy="125.4" r="1.65" fill="#3aa6dd"/><circle cx="621.9" cy="125.4" r="1.65" fill="#3aa6dd"/><circle cx="635.8" cy="151.2" r="1.65" fill="#3aa6dd"/><circle cx="640.4" cy="138.7" r="1.65" fill="#3aa6dd"/><circle cx="645.1" cy="139.5" r="1.65" fill="#3aa6dd"/><circle cx="51.1" cy="444.1" r="1.65" fill="#7699f4"/><circle cx="55.8" cy="443.6" r="1.65" fill="#7699f4"/><circle cx="60.4" cy="442.9" r="1.65" fill="#7699f4"/><circle cx="65.1" cy="442.7" r="1.65" fill="#7699f4"/><circle cx="69.7" cy="442.5" r="1.65" fill="#7699f4"/><circle cx="74.3" cy="442.5" r="1.65" fill="#7699f4"/><circle cx="79.0" cy="442.0" r="1.65" fill="#7699f4"/><circle cx="83.6" cy="441.7" r="1.65" fill="#7699f4"/><circle cx="88.3" cy="440.7" r="1.65" fill="#7699f4"/><circle cx="92.9" cy="440.4" r="1.65" fill="#7699f4"/><circle cx="97.5" cy="439.2" r="1.65" fill="#7699f4"/><circle cx="102.2" cy="439.3" r="1.65" fill="#7699f4"/><circle cx="106.8" cy="438.2" r="1.65" fill="#7699f4"/><circle cx="111.5" cy="438.8" r="1.65" fill="#7699f4"/><circle cx="116.1" cy="437.8" r="1.65" fill="#7699f4"/><circle cx="120.8" cy="438.0" r="1.65" fill="#7699f4"/><circle cx="125.4" cy="436.0" r="1.65" fill="#7699f4"/><circle cx="130.0" cy="433.6" r="1.65" fill="#7699f4"/><circle cx="134.7" cy="429.9" r="1.65" fill="#7699f4"/><circle cx="139.3" cy="424.6" r="1.65" fill="#7699f4"/><circle cx="143.9" cy="419.5" r="1.65" fill="#7699f4"/><circle cx="148.6" cy="415.2" r="1.65" fill="#7699f4"/><circle cx="153.2" cy="407.8" r="1.65" fill="#7699f4"/><circle cx="157.9" cy="404.8" r="1.65" fill="#7699f4"/><circle cx="162.5" cy="400.5" r="1.65" fill="#7699f4"/><circle cx="167.1" cy="398.7" r="1.65" fill="#7699f4"/><circle cx="171.8" cy="395.2" r="1.65" fill="#7699f4"/><circle cx="176.4" cy="394.7" r="1.65" fill="#7699f4"/><circle cx="181.1" cy="394.1" r="1.65" fill="#7699f4"/><circle cx="185.7" cy="392.4" r="1.65" fill="#7699f4"/><circle cx="190.3" cy="389.4" r="1.65" fill="#7699f4"/><circle cx="195.0" cy="390.3" r="1.65" fill="#7699f4"/><circle cx="199.6" cy="389.4" r="1.65" fill="#7699f4"/><circle cx="204.3" cy="387.2" r="1.65" fill="#7699f4"/><circle cx="208.9" cy="386.9" r="1.65" fill="#7699f4"/><circle cx="213.5" cy="383.9" r="1.65" fill="#7699f4"/><circle cx="218.2" cy="382.4" r="1.65" fill="#7699f4"/><circle cx="222.8" cy="382.0" r="1.65" fill="#7699f4"/><circle cx="227.5" cy="380.5" r="1.65" fill="#7699f4"/><circle cx="232.1" cy="379.2" r="1.65" fill="#7699f4"/><circle cx="236.8" cy="379.2" r="1.65" fill="#7699f4"/><circle cx="241.4" cy="378.2" r="1.65" fill="#7699f4"/><circle cx="246.0" cy="373.6" r="1.65" fill="#7699f4"/><circle cx="250.7" cy="374.4" r="1.65" fill="#7699f4"/><circle cx="255.3" cy="373.5" r="1.65" fill="#7699f4"/><circle cx="259.9" cy="370.5" r="1.65" fill="#7699f4"/><circle cx="264.6" cy="370.5" r="1.65" fill="#7699f4"/><circle cx="269.2" cy="367.2" r="1.65" fill="#7699f4"/><circle cx="273.9" cy="367.2" r="1.65" fill="#7699f4"/><circle cx="278.5" cy="367.2" r="1.65" fill="#7699f4"/><circle cx="283.1" cy="362.8" r="1.65" fill="#7699f4"/><circle cx="287.8" cy="361.2" r="1.65" fill="#7699f4"/><circle cx="292.4" cy="362.0" r="1.65" fill="#7699f4"/><circle cx="297.1" cy="360.2" r="1.65" fill="#7699f4"/><circle cx="301.7" cy="361.0" r="1.65" fill="#7699f4"/><circle cx="306.3" cy="359.0" r="1.65" fill="#7699f4"/><circle cx="311.0" cy="357.6" r="1.65" fill="#7699f4"/><circle cx="315.6" cy="356.4" r="1.65" fill="#7699f4"/><circle cx="320.3" cy="355.1" r="1.65" fill="#7699f4"/><circle cx="324.9" cy="354.0" r="1.65" fill="#7699f4"/><circle cx="329.5" cy="354.6" r="1.65" fill="#7699f4"/><circle cx="334.2" cy="351.0" r="1.65" fill="#7699f4"/><circle cx="338.8" cy="351.0" r="1.65" fill="#7699f4"/><circle cx="343.5" cy="350.3" r="1.65" fill="#7699f4"/><circle cx="348.1" cy="346.9" r="1.65" fill="#7699f4"/><circle cx="352.7" cy="345.8" r="1.65" fill="#7699f4"/><circle cx="357.4" cy="343.9" r="1.65" fill="#7699f4"/><circle cx="362.0" cy="348.5" r="1.65" fill="#7699f4"/><circle cx="366.7" cy="344.3" r="1.65" fill="#7699f4"/><circle cx="371.3" cy="344.6" r="1.65" fill="#7699f4"/><circle cx="375.9" cy="344.3" r="1.65" fill="#7699f4"/><circle cx="380.6" cy="342.0" r="1.65" fill="#7699f4"/><circle cx="385.2" cy="340.2" r="1.65" fill="#7699f4"/><circle cx="389.9" cy="338.5" r="1.65" fill="#7699f4"/><circle cx="394.5" cy="341.3" r="1.65" fill="#7699f4"/><circle cx="399.1" cy="340.5" r="1.65" fill="#7699f4"/><circle cx="403.8" cy="339.2" r="1.65" fill="#7699f4"/><circle cx="408.4" cy="339.8" r="1.65" fill="#7699f4"/><circle cx="413.1" cy="336.9" r="1.65" fill="#7699f4"/><circle cx="417.7" cy="337.4" r="1.65" fill="#7699f4"/><circle cx="422.3" cy="339.2" r="1.65" fill="#7699f4"/><circle cx="427.0" cy="337.2" r="1.65" fill="#7699f4"/><circle cx="431.6" cy="318.2" r="1.65" fill="#7699f4"/><circle cx="436.3" cy="314.6" r="1.65" fill="#7699f4"/><circle cx="440.9" cy="310.3" r="1.65" fill="#7699f4"/><circle cx="445.5" cy="305.9" r="1.65" fill="#7699f4"/><circle cx="450.2" cy="298.0" r="1.65" fill="#7699f4"/><circle cx="454.8" cy="292.3" r="1.65" fill="#7699f4"/><circle cx="459.5" cy="291.0" r="1.65" fill="#7699f4"/><circle cx="464.1" cy="286.1" r="1.65" fill="#7699f4"/><circle cx="468.7" cy="287.4" r="1.65" fill="#7699f4"/><circle cx="473.4" cy="284.4" r="1.65" fill="#7699f4"/><circle cx="478.0" cy="284.6" r="1.65" fill="#7699f4"/><circle cx="482.7" cy="284.0" r="1.65" fill="#7699f4"/><circle cx="487.3" cy="284.0" r="1.65" fill="#7699f4"/><circle cx="491.9" cy="282.6" r="1.65" fill="#7699f4"/><circle cx="496.6" cy="282.8" r="1.65" fill="#7699f4"/><circle cx="501.2" cy="281.1" r="1.65" fill="#7699f4"/><circle cx="505.9" cy="281.3" r="1.65" fill="#7699f4"/><circle cx="510.5" cy="284.2" r="1.65" fill="#7699f4"/><circle cx="515.1" cy="283.1" r="1.65" fill="#7699f4"/><circle cx="519.8" cy="282.7" r="1.65" fill="#7699f4"/><circle cx="524.4" cy="280.0" r="1.65" fill="#7699f4"/><circle cx="529.1" cy="279.4" r="1.65" fill="#7699f4"/><circle cx="533.7" cy="278.4" r="1.65" fill="#7699f4"/><circle cx="538.4" cy="277.4" r="1.65" fill="#7699f4"/><circle cx="543.0" cy="274.6" r="1.65" fill="#7699f4"/><circle cx="547.6" cy="272.0" r="1.65" fill="#7699f4"/><circle cx="552.3" cy="271.0" r="1.65" fill="#7699f4"/><circle cx="556.9" cy="270.3" r="1.65" fill="#7699f4"/><circle cx="561.5" cy="270.8" r="1.65" fill="#7699f4"/><circle cx="566.2" cy="269.5" r="1.65" fill="#7699f4"/><circle cx="570.8" cy="271.8" r="1.65" fill="#7699f4"/><circle cx="575.5" cy="265.1" r="1.65" fill="#7699f4"/><circle cx="580.1" cy="264.1" r="1.65" fill="#7699f4"/><circle cx="584.7" cy="265.9" r="1.65" fill="#7699f4"/><circle cx="589.4" cy="262.9" r="1.65" fill="#7699f4"/><circle cx="594.0" cy="261.8" r="1.65" fill="#7699f4"/><circle cx="598.7" cy="268.8" r="1.65" fill="#7699f4"/><circle cx="603.3" cy="262.6" r="1.65" fill="#7699f4"/><circle cx="607.9" cy="265.5" r="1.65" fill="#7699f4"/><circle cx="612.6" cy="269.8" r="1.65" fill="#7699f4"/><circle cx="617.2" cy="269.3" r="1.65" fill="#7699f4"/><circle cx="621.9" cy="275.3" r="1.65" fill="#7699f4"/><circle cx="626.5" cy="269.9" r="1.65" fill="#7699f4"/><circle cx="631.1" cy="290.1" r="1.65" fill="#7699f4"/><circle cx="635.8" cy="278.7" r="1.65" fill="#7699f4"/><circle cx="640.4" cy="273.3" r="1.65" fill="#7699f4"/><circle cx="645.1" cy="272.6" r="1.65" fill="#7699f4"/><circle cx="315.6" cy="181.5" r="1.65" fill="#b087f4"/><circle cx="403.8" cy="228.8" r="1.65" fill="#b087f4"/><circle cx="399.2" cy="234.5" r="1.65" fill="#b087f4"/><circle cx="394.5" cy="241.4" r="1.65" fill="#b087f4"/><circle cx="389.9" cy="242.9" r="1.65" fill="#b087f4"/><circle cx="385.3" cy="246.7" r="1.65" fill="#b087f4"/><circle cx="380.7" cy="250.1" r="1.65" fill="#b087f4"/><circle cx="320.3" cy="283.8" r="1.65" fill="#b087f4"/><circle cx="334.2" cy="280.8" r="1.65" fill="#b087f4"/><circle cx="338.8" cy="277.5" r="1.65" fill="#b087f4"/><circle cx="343.5" cy="276.1" r="1.65" fill="#b087f4"/><circle cx="348.1" cy="271.8" r="1.65" fill="#b087f4"/><circle cx="348.1" cy="272.6" r="1.65" fill="#b087f4"/><circle cx="352.7" cy="271.0" r="1.65" fill="#b087f4"/><circle cx="357.4" cy="267.2" r="1.65" fill="#b087f4"/><circle cx="362.0" cy="263.6" r="1.65" fill="#b087f4"/><circle cx="366.7" cy="264.4" r="1.65" fill="#b087f4"/><circle cx="371.3" cy="262.3" r="1.65" fill="#b087f4"/><circle cx="375.9" cy="257.5" r="1.65" fill="#b087f4"/><circle cx="380.6" cy="250.5" r="1.65" fill="#b087f4"/><circle cx="311.0" cy="321.5" r="1.65" fill="#b087f4"/><circle cx="324.9" cy="311.6" r="1.65" fill="#b087f4"/><circle cx="329.5" cy="304.9" r="1.65" fill="#b087f4"/><circle cx="408.4" cy="229.4" r="1.65" fill="#b087f4"/><circle cx="413.1" cy="226.2" r="1.65" fill="#b087f4"/><circle cx="417.7" cy="223.8" r="1.65" fill="#b087f4"/><circle cx="422.3" cy="225.2" r="1.65" fill="#b087f4"/><circle cx="427.0" cy="222.9" r="1.65" fill="#b087f4"/><circle cx="431.6" cy="219.7" r="1.65" fill="#b087f4"/><circle cx="436.3" cy="215.8" r="1.65" fill="#b087f4"/><circle cx="440.9" cy="214.4" r="1.65" fill="#b087f4"/><circle cx="445.5" cy="213.2" r="1.65" fill="#b087f4"/><circle cx="450.2" cy="209.3" r="1.65" fill="#b087f4"/><circle cx="454.8" cy="209.1" r="1.65" fill="#b087f4"/><circle cx="450.2" cy="209.0" r="1.65" fill="#b087f4"/><circle cx="459.5" cy="207.0" r="1.65" fill="#b087f4"/><circle cx="464.1" cy="204.1" r="1.65" fill="#b087f4"/><circle cx="468.7" cy="199.5" r="1.65" fill="#b087f4"/><circle cx="473.4" cy="196.4" r="1.65" fill="#b087f4"/><circle cx="478.0" cy="194.4" r="1.65" fill="#b087f4"/><circle cx="482.7" cy="191.6" r="1.65" fill="#b087f4"/><circle cx="487.3" cy="193.8" r="1.65" fill="#b087f4"/><circle cx="491.9" cy="191.0" r="1.65" fill="#b087f4"/><circle cx="496.6" cy="186.9" r="1.65" fill="#b087f4"/><circle cx="501.2" cy="184.3" r="1.65" fill="#b087f4"/><circle cx="552.3" cy="158.0" r="1.65" fill="#b087f4"/><circle cx="556.9" cy="155.9" r="1.65" fill="#b087f4"/><circle cx="561.5" cy="154.1" r="1.65" fill="#b087f4"/><circle cx="566.2" cy="151.0" r="1.65" fill="#b087f4"/><circle cx="570.8" cy="150.2" r="1.65" fill="#b087f4"/><circle cx="575.5" cy="148.8" r="1.65" fill="#b087f4"/><circle cx="580.1" cy="148.8" r="1.65" fill="#b087f4"/><circle cx="584.7" cy="147.7" r="1.65" fill="#b087f4"/><circle cx="589.4" cy="143.3" r="1.65" fill="#b087f4"/><circle cx="594.0" cy="150.8" r="1.65" fill="#b087f4"/><circle cx="598.7" cy="142.6" r="1.65" fill="#b087f4"/><circle cx="505.9" cy="183.7" r="1.65" fill="#b087f4"/><circle cx="510.5" cy="179.4" r="1.65" fill="#b087f4"/><circle cx="515.1" cy="176.5" r="1.65" fill="#b087f4"/><circle cx="519.8" cy="174.8" r="1.65" fill="#b087f4"/><circle cx="524.4" cy="176.0" r="1.65" fill="#b087f4"/><circle cx="529.1" cy="171.4" r="1.65" fill="#b087f4"/><circle cx="533.7" cy="169.4" r="1.65" fill="#b087f4"/><circle cx="538.4" cy="168.5" r="1.65" fill="#b087f4"/><circle cx="543.0" cy="163.7" r="1.65" fill="#b087f4"/><circle cx="547.6" cy="162.4" r="1.65" fill="#b087f4"/><circle cx="552.3" cy="158.3" r="1.65" fill="#b087f4"/><circle cx="556.9" cy="156.0" r="1.65" fill="#b087f4"/><circle cx="561.5" cy="155.5" r="1.65" fill="#b087f4"/><circle cx="626.5" cy="139.3" r="1.65" fill="#b087f4"/><circle cx="594.0" cy="150.7" r="1.65" fill="#b087f4"/><circle cx="598.7" cy="142.6" r="1.65" fill="#b087f4"/><circle cx="603.3" cy="144.1" r="1.65" fill="#b087f4"/><circle cx="607.9" cy="151.2" r="1.65" fill="#b087f4"/><circle cx="621.9" cy="162.1" r="1.65" fill="#b087f4"/><circle cx="645.1" cy="137.4" r="1.65" fill="#b087f4"/><circle cx="612.6" cy="183.5" r="1.65" fill="#b087f4"/><circle cx="617.2" cy="166.9" r="1.65" fill="#b087f4"/><circle cx="631.1" cy="183.5" r="1.65" fill="#b087f4"/><circle cx="635.8" cy="167.3" r="1.65" fill="#b087f4"/><circle cx="640.4" cy="183.0" r="1.65" fill="#b087f4"/><circle cx="306.4" cy="67.2" r="1.65" fill="#df6df4"/><circle cx="297.0" cy="104.4" r="1.65" fill="#df6df4"/><circle cx="311.0" cy="170.0" r="1.65" fill="#df6df4"/><circle cx="315.6" cy="316.3" r="1.65" fill="#df6df4"/><circle cx="320.3" cy="319.6" r="1.65" fill="#df6df4"/><circle cx="320.3" cy="331.4" r="1.65" fill="#df6df4"/><circle cx="324.9" cy="318.6" r="1.65" fill="#df6df4"/><circle cx="431.6" cy="245.0" r="1.65" fill="#df6df4"/><circle cx="436.3" cy="243.5" r="1.65" fill="#df6df4"/><circle cx="459.5" cy="206.5" r="1.65" fill="#df6df4"/><circle cx="603.3" cy="190.6" r="1.65" fill="#df6df4"/><circle cx="607.9" cy="178.9" r="1.65" fill="#df6df4"/><circle cx="617.2" cy="180.2" r="1.65" fill="#df6df4"/><circle cx="621.9" cy="162.2" r="1.65" fill="#df6df4"/><circle cx="621.9" cy="191.6" r="1.65" fill="#df6df4"/><circle cx="626.5" cy="184.8" r="1.65" fill="#df6df4"/><circle cx="631.1" cy="190.4" r="1.65" fill="#df6df4"/><circle cx="635.8" cy="188.1" r="1.65" fill="#df6df4"/><circle cx="640.4" cy="180.9" r="1.65" fill="#df6df4"/><circle cx="645.1" cy="206.7" r="1.65" fill="#df6df4"/><circle cx="306.4" cy="78.9" r="1.65" fill="#f563d8"/><circle cx="311.0" cy="75.4" r="1.65" fill="#f563d8"/><circle cx="324.9" cy="297.0" r="1.65" fill="#f563d8"/><circle cx="334.2" cy="289.0" r="1.65" fill="#f563d8"/><circle cx="334.2" cy="291.5" r="1.65" fill="#f563d8"/><circle cx="338.8" cy="288.0" r="1.65" fill="#f563d8"/><circle cx="343.5" cy="286.7" r="1.65" fill="#f563d8"/><circle cx="348.1" cy="284.4" r="1.65" fill="#f563d8"/><circle cx="352.7" cy="283.0" r="1.65" fill="#f563d8"/><circle cx="352.7" cy="284.8" r="1.65" fill="#f563d8"/><circle cx="357.4" cy="279.7" r="1.65" fill="#f563d8"/><circle cx="362.0" cy="279.2" r="1.65" fill="#f563d8"/><circle cx="362.0" cy="281.8" r="1.65" fill="#f563d8"/><circle cx="366.7" cy="277.7" r="1.65" fill="#f563d8"/><circle cx="366.7" cy="280.8" r="1.65" fill="#f563d8"/><circle cx="371.3" cy="276.1" r="1.65" fill="#f563d8"/><circle cx="375.9" cy="273.1" r="1.65" fill="#f563d8"/><circle cx="380.6" cy="271.5" r="1.65" fill="#f563d8"/><circle cx="385.2" cy="270.5" r="1.65" fill="#f563d8"/><circle cx="389.9" cy="263.8" r="1.65" fill="#f563d8"/><circle cx="394.5" cy="262.8" r="1.65" fill="#f563d8"/><circle cx="399.1" cy="261.3" r="1.65" fill="#f563d8"/><circle cx="403.8" cy="253.6" r="1.65" fill="#f563d8"/><circle cx="315.6" cy="296.0" r="1.65" fill="#f563d8"/><circle cx="315.6" cy="307.8" r="1.65" fill="#f563d8"/><circle cx="324.9" cy="296.8" r="1.65" fill="#f563d8"/><circle cx="329.5" cy="310.4" r="1.65" fill="#f563d8"/><circle cx="403.8" cy="253.1" r="1.65" fill="#f563d8"/><circle cx="417.7" cy="250.5" r="1.65" fill="#f563d8"/><circle cx="422.3" cy="250.5" r="1.65" fill="#f563d8"/><circle cx="427.0" cy="251.5" r="1.65" fill="#f563d8"/><circle cx="431.6" cy="251.0" r="1.65" fill="#f563d8"/><circle cx="413.1" cy="250.1" r="1.65" fill="#f563d8"/><circle cx="422.3" cy="249.6" r="1.65" fill="#f563d8"/><circle cx="440.9" cy="239.9" r="1.65" fill="#f563d8"/><circle cx="445.5" cy="238.3" r="1.65" fill="#f563d8"/><circle cx="450.2" cy="234.7" r="1.65" fill="#f563d8"/><circle cx="454.8" cy="232.7" r="1.65" fill="#f563d8"/><circle cx="459.5" cy="228.4" r="1.65" fill="#f563d8"/><circle cx="464.1" cy="227.6" r="1.65" fill="#f563d8"/><circle cx="468.7" cy="225.0" r="1.65" fill="#f563d8"/><circle cx="473.4" cy="224.5" r="1.65" fill="#f563d8"/><circle cx="478.0" cy="220.4" r="1.65" fill="#f563d8"/><circle cx="482.7" cy="218.8" r="1.65" fill="#f563d8"/><circle cx="487.3" cy="219.4" r="1.65" fill="#f563d8"/><circle cx="491.9" cy="214.2" r="1.65" fill="#f563d8"/><circle cx="496.6" cy="213.2" r="1.65" fill="#f563d8"/><circle cx="501.2" cy="209.1" r="1.65" fill="#f563d8"/><circle cx="533.7" cy="198.1" r="1.65" fill="#f563d8"/><circle cx="538.4" cy="198.1" r="1.65" fill="#f563d8"/><circle cx="543.0" cy="195.0" r="1.65" fill="#f563d8"/><circle cx="547.6" cy="191.4" r="1.65" fill="#f563d8"/><circle cx="552.3" cy="188.3" r="1.65" fill="#f563d8"/><circle cx="552.3" cy="192.4" r="1.65" fill="#f563d8"/><circle cx="556.9" cy="188.3" r="1.65" fill="#f563d8"/><circle cx="561.5" cy="184.7" r="1.65" fill="#f563d8"/><circle cx="566.2" cy="181.1" r="1.65" fill="#f563d8"/><circle cx="570.8" cy="179.6" r="1.65" fill="#f563d8"/><circle cx="575.5" cy="174.0" r="1.65" fill="#f563d8"/><circle cx="575.5" cy="180.1" r="1.65" fill="#f563d8"/><circle cx="580.1" cy="180.6" r="1.65" fill="#f563d8"/><circle cx="584.7" cy="183.2" r="1.65" fill="#f563d8"/><circle cx="589.4" cy="174.0" r="1.65" fill="#f563d8"/><circle cx="589.4" cy="181.9" r="1.65" fill="#f563d8"/><circle cx="598.7" cy="181.7" r="1.65" fill="#f563d8"/><circle cx="505.9" cy="207.2" r="1.65" fill="#f563d8"/><circle cx="510.5" cy="204.6" r="1.65" fill="#f563d8"/><circle cx="515.1" cy="204.6" r="1.65" fill="#f563d8"/><circle cx="519.8" cy="200.5" r="1.65" fill="#f563d8"/><circle cx="519.8" cy="204.9" r="1.65" fill="#f563d8"/><circle cx="524.4" cy="200.5" r="1.65" fill="#f563d8"/><circle cx="524.4" cy="204.3" r="1.65" fill="#f563d8"/><circle cx="529.1" cy="200.5" r="1.65" fill="#f563d8"/><circle cx="533.7" cy="200.5" r="1.65" fill="#f563d8"/><circle cx="594.0" cy="167.3" r="1.65" fill="#f563d8"/><circle cx="598.7" cy="184.5" r="1.65" fill="#f563d8"/><circle cx="598.7" cy="187.0" r="1.65" fill="#f563d8"/><circle cx="603.3" cy="188.1" r="1.65" fill="#f563d8"/><circle cx="607.9" cy="192.7" r="1.65" fill="#f563d8"/><circle cx="612.6" cy="181.4" r="1.65" fill="#f563d8"/><circle cx="635.8" cy="171.4" r="1.65" fill="#f563d8"/><circle cx="635.8" cy="209.6" r="1.65" fill="#f563d8"/><circle cx="301.8" cy="78.9" r="1.65" fill="#f66ab2"/><circle cx="311.0" cy="79.9" r="1.65" fill="#f66ab2"/><circle cx="306.4" cy="93.8" r="1.65" fill="#f66ab2"/><circle cx="315.6" cy="296.1" r="1.65" fill="#f66ab2"/><circle cx="320.3" cy="296.1" r="1.65" fill="#f66ab2"/><circle cx="338.8" cy="290.3" r="1.65" fill="#f66ab2"/><circle cx="338.8" cy="291.0" r="1.65" fill="#f66ab2"/><circle cx="343.5" cy="289.5" r="1.65" fill="#f66ab2"/><circle cx="343.5" cy="290.2" r="1.65" fill="#f66ab2"/><circle cx="348.1" cy="288.5" r="1.65" fill="#f66ab2"/><circle cx="348.1" cy="289.5" r="1.65" fill="#f66ab2"/><circle cx="352.7" cy="286.9" r="1.65" fill="#f66ab2"/><circle cx="357.4" cy="283.3" r="1.65" fill="#f66ab2"/><circle cx="371.3" cy="279.2" r="1.65" fill="#f66ab2"/><circle cx="375.9" cy="277.2" r="1.65" fill="#f66ab2"/><circle cx="380.6" cy="274.1" r="1.65" fill="#f66ab2"/><circle cx="385.2" cy="273.1" r="1.65" fill="#f66ab2"/><circle cx="389.9" cy="266.4" r="1.65" fill="#f66ab2"/><circle cx="394.5" cy="265.4" r="1.65" fill="#f66ab2"/><circle cx="399.1" cy="259.7" r="1.65" fill="#f66ab2"/><circle cx="324.9" cy="330.7" r="1.65" fill="#f66ab2"/><circle cx="329.5" cy="312.2" r="1.65" fill="#f66ab2"/><circle cx="403.8" cy="256.7" r="1.65" fill="#f66ab2"/><circle cx="408.4" cy="254.6" r="1.65" fill="#f66ab2"/><circle cx="413.1" cy="253.1" r="1.65" fill="#f66ab2"/><circle cx="417.7" cy="253.1" r="1.65" fill="#f66ab2"/><circle cx="427.0" cy="253.0" r="1.65" fill="#f66ab2"/><circle cx="413.1" cy="252.7" r="1.65" fill="#f66ab2"/><circle cx="431.6" cy="247.0" r="1.65" fill="#f66ab2"/><circle cx="436.3" cy="246.8" r="1.65" fill="#f66ab2"/><circle cx="440.9" cy="244.5" r="1.65" fill="#f66ab2"/><circle cx="445.5" cy="240.4" r="1.65" fill="#f66ab2"/><circle cx="450.2" cy="235.8" r="1.65" fill="#f66ab2"/><circle cx="454.8" cy="235.3" r="1.65" fill="#f66ab2"/><circle cx="459.5" cy="231.1" r="1.65" fill="#f66ab2"/><circle cx="464.1" cy="231.1" r="1.65" fill="#f66ab2"/><circle cx="468.7" cy="227.0" r="1.65" fill="#f66ab2"/><circle cx="473.4" cy="223.0" r="1.65" fill="#f66ab2"/><circle cx="482.7" cy="216.3" r="1.65" fill="#f66ab2"/><circle cx="487.3" cy="217.3" r="1.65" fill="#f66ab2"/><circle cx="491.9" cy="216.8" r="1.65" fill="#f66ab2"/><circle cx="496.6" cy="211.7" r="1.65" fill="#f66ab2"/><circle cx="501.2" cy="212.7" r="1.65" fill="#f66ab2"/><circle cx="533.7" cy="196.0" r="1.65" fill="#f66ab2"/><circle cx="538.4" cy="194.5" r="1.65" fill="#f66ab2"/><circle cx="543.0" cy="189.9" r="1.65" fill="#f66ab2"/><circle cx="547.6" cy="188.3" r="1.65" fill="#f66ab2"/><circle cx="552.3" cy="185.8" r="1.65" fill="#f66ab2"/><circle cx="556.9" cy="186.3" r="1.65" fill="#f66ab2"/><circle cx="561.5" cy="183.7" r="1.65" fill="#f66ab2"/><circle cx="570.8" cy="181.1" r="1.65" fill="#f66ab2"/><circle cx="575.5" cy="179.1" r="1.65" fill="#f66ab2"/><circle cx="580.1" cy="178.1" r="1.65" fill="#f66ab2"/><circle cx="584.7" cy="175.5" r="1.65" fill="#f66ab2"/><circle cx="589.4" cy="175.5" r="1.65" fill="#f66ab2"/><circle cx="589.4" cy="186.8" r="1.65" fill="#f66ab2"/><circle cx="594.0" cy="167.3" r="1.65" fill="#f66ab2"/><circle cx="594.0" cy="185.8" r="1.65" fill="#f66ab2"/><circle cx="598.7" cy="185.8" r="1.65" fill="#f66ab2"/><circle cx="505.9" cy="209.7" r="1.65" fill="#f66ab2"/><circle cx="510.5" cy="209.2" r="1.65" fill="#f66ab2"/><circle cx="515.1" cy="203.1" r="1.65" fill="#f66ab2"/><circle cx="529.1" cy="202.6" r="1.65" fill="#f66ab2"/><circle cx="543.0" cy="209.7" r="1.65" fill="#f66ab2"/><circle cx="626.5" cy="147.7" r="1.65" fill="#f66ab2"/><circle cx="640.4" cy="126.7" r="1.65" fill="#f66ab2"/><circle cx="645.1" cy="136.2" r="1.65" fill="#f66ab2"/><circle cx="594.0" cy="186.0" r="1.65" fill="#f66ab2"/><circle cx="598.7" cy="181.9" r="1.65" fill="#f66ab2"/><circle cx="603.3" cy="193.2" r="1.65" fill="#f66ab2"/><circle cx="607.9" cy="185.0" r="1.65" fill="#f66ab2"/><circle cx="617.2" cy="161.8" r="1.65" fill="#f66ab2"/><circle cx="617.2" cy="185.5" r="1.65" fill="#f66ab2"/><circle cx="621.9" cy="186.3" r="1.65" fill="#f66ab2"/><circle cx="626.5" cy="175.1" r="1.65" fill="#f66ab2"/><circle cx="631.1" cy="196.7" r="1.65" fill="#f66ab2"/><circle cx="631.1" cy="198.8" r="1.65" fill="#f66ab2"/><circle cx="640.4" cy="185.0" r="1.65" fill="#f66ab2"/><circle cx="645.1" cy="210.3" r="1.65" fill="#f66ab2"/></g>
<polyline points="48.4,425.6 50.4,424.7 52.4,423.7 54.4,422.7 56.4,421.8 58.4,420.8 60.4,419.9 62.4,418.9 64.4,417.9 66.4,417.0 68.4,416.0 70.4,415.1 72.4,414.1 74.4,413.2 76.4,412.2 78.4,411.2 80.4,410.3 82.4,409.3 84.4,408.4 86.4,407.4 88.4,406.5 90.4,405.5 92.4,404.6 94.4,403.6 96.4,402.7 98.4,401.7 100.4,400.8 102.4,399.8 104.4,398.9 106.4,397.9 108.4,397.0 110.4,396.0 112.4,395.1 114.4,394.1 116.4,393.2 118.4,392.2 120.4,391.3 122.4,390.3 124.5,389.4 126.5,388.4 128.5,387.5 130.5,386.5 132.5,385.6 134.5,384.6 136.5,383.7 138.5,382.7 140.5,381.8 142.5,380.9 144.5,379.9 146.5,379.0 148.5,378.0 150.5,377.1 152.5,376.1 154.5,375.2 156.5,374.2 158.5,373.3 160.5,372.3 162.5,371.4 164.5,370.5 166.5,369.5 168.5,368.6 170.5,367.6 172.5,366.7 174.5,365.7 176.5,364.8 178.5,363.8 180.5,362.9 182.5,362.0 184.5,361.0 186.5,360.1 188.5,359.1 190.5,358.2 192.5,357.2 194.5,356.3 196.5,355.3 198.5,354.4 200.5,353.5 202.5,352.5 204.5,351.6 206.5,350.6 208.5,349.7 210.5,348.7 212.5,347.8 214.5,346.8 216.5,345.9 218.5,344.9 220.5,344.0 222.5,343.0 224.5,342.1 226.5,341.1 228.5,340.2 230.5,339.3 232.5,338.3 234.5,337.4 236.5,336.4 238.5,335.5 240.5,334.5 242.5,333.6 244.5,332.6 246.5,331.7 248.5,330.7 250.5,329.8 252.5,328.8 254.5,327.9 256.5,326.9 258.5,325.9 260.5,325.0 262.5,324.0 264.5,323.1 266.5,322.1 268.5,321.2 270.5,320.2 272.5,319.3 274.6,318.3 276.6,317.4 278.6,316.4 280.6,315.4 282.6,314.5 284.6,313.5 286.6,312.6 288.6,311.6 290.6,310.7 292.6,309.7 294.6,308.7 296.6,307.8 298.6,306.8 300.6,305.8 302.6,304.9 304.6,303.9 306.6,303.0 308.6,302.0 310.6,301.0 312.6,300.1 314.6,299.1 316.6,298.1 318.6,297.2 320.6,296.2 322.6,295.2 324.6,294.3 326.6,293.3 328.6,292.3 330.6,291.3 332.6,290.4 334.6,289.4 336.6,288.4 338.6,287.4 340.6,286.5 342.6,285.5 344.6,284.5 346.6,283.5 348.6,282.6 350.6,281.6 352.6,280.6 354.6,279.6 356.6,278.6 358.6,277.7 360.6,276.7 362.6,275.7 364.6,274.7 366.6,273.7 368.6,272.7 370.6,271.7 372.6,270.8 374.6,269.8 376.6,268.8 378.6,267.8 380.6,266.8 382.6,265.8 384.6,264.8 386.6,263.8 388.6,262.8 390.6,261.8 392.6,260.8 394.6,259.8 396.6,258.8 398.6,257.8 400.6,256.8 402.6,255.8 404.6,254.8 406.6,253.8 408.6,252.8 410.6,251.8 412.6,250.8 414.6,249.8 416.6,248.8 418.6,247.8 420.6,246.8 422.7,245.7 424.7,244.7 426.7,243.7 428.7,242.7 430.7,241.7 432.7,240.7 434.7,239.6 436.7,238.6 438.7,237.6 440.7,236.6 442.7,235.5 444.7,234.5 446.7,233.5 448.7,232.5 450.7,231.4 452.7,230.4 454.7,229.4 456.7,228.4 458.7,227.3 460.7,226.3 462.7,225.3 464.7,224.3 466.7,223.2 468.7,222.2 470.7,221.2 472.7,220.2 474.7,219.2 476.7,218.1 478.7,217.1 480.7,216.1 482.7,215.1 484.7,214.1 486.7,213.1 488.7,212.1 490.7,211.1 492.7,210.2 494.7,209.2 496.7,208.2 498.7,207.2 500.7,206.3 502.7,205.3 504.7,204.3 506.7,203.4 508.7,202.4 510.7,201.5 512.7,200.6 514.7,199.6 516.7,198.7 518.7,197.8 520.7,196.9 522.7,196.0 524.7,195.1 526.7,194.2 528.7,193.3 530.7,192.4 532.7,191.6 534.7,190.7 536.7,189.9 538.7,189.0 540.7,188.2 542.7,187.4 544.7,186.6 546.7,185.8 548.7,185.0 550.7,184.2 552.7,183.4 554.7,182.7 556.7,181.9 558.7,181.2 560.7,180.5 562.7,179.8 564.7,179.1 566.7,178.5 568.7,177.9 570.7,177.2 572.8,176.7 574.8,176.1 576.8,175.6 578.8,175.0 580.8,174.5 582.8,174.1 584.8,173.7 586.8,173.2 588.8,172.9 590.8,172.5 592.8,172.2 594.8,171.9 596.8,171.7 598.8,171.5 600.8,171.3 602.8,171.2 604.8,171.1 606.8,171.1 608.8,171.1 610.8,171.1 612.8,171.2 614.8,171.4 616.8,171.5 618.8,171.8 620.8,172.1 622.8,172.4 624.8,172.8 626.8,173.2 628.8,173.7 630.8,174.3 632.8,174.9 634.8,175.6 636.8,176.3 638.8,177.1 640.8,178.0 642.8,178.9 644.8,179.9 646.8,181.0" fill="none" stroke="#111" stroke-width="1.5"/>
<line x1="512.40" y1="47.5" x2="512.40" y2="453.5" stroke="#383838" stroke-width="1.5"/>
<path d="M48.4,47.5 V453.5 H646.8" fill="none" stroke="#333333" stroke-width="0.9"/>
<line x1="45.8" y1="453.50" x2="48.4" y2="453.50" stroke="#333333" stroke-width="0.9"/>
<text x="43.80" y="456.80" font-size="9.90" text-anchor="end" textLength="20.04" lengthAdjust="spacingAndGlyphs" fill="#1a1a1a">0.00</text>
<line x1="45.8" y1="402.75" x2="48.4" y2="402.75" stroke="#333333" stroke-width="0.9"/>
<text x="43.80" y="406.05" font-size="9.90" text-anchor="end" textLength="20.04" lengthAdjust="spacingAndGlyphs" fill="#1a1a1a">0.01</text>
<line x1="45.8" y1="352.00" x2="48.4" y2="352.00" stroke="#333333" stroke-width="0.9"/>
<text x="43.80" y="355.30" font-size="9.90" text-anchor="end" textLength="20.04" lengthAdjust="spacingAndGlyphs" fill="#1a1a1a">0.02</text>
<line x1="45.8" y1="301.25" x2="48.4" y2="301.25" stroke="#333333" stroke-width="0.9"/>
<text x="43.80" y="304.55" font-size="9.90" text-anchor="end" textLength="20.04" lengthAdjust="spacingAndGlyphs" fill="#1a1a1a">0.03</text>
<line x1="45.8" y1="250.50" x2="48.4" y2="250.50" stroke="#333333" stroke-width="0.9"/>
<text x="43.80" y="253.80" font-size="9.90" text-anchor="end" textLength="20.04" lengthAdjust="spacingAndGlyphs" fill="#1a1a1a">0.04</text>
<line x1="45.8" y1="199.75" x2="48.4" y2="199.75" stroke="#333333" stroke-width="0.9"/>
<text x="43.80" y="203.05" font-size="9.90" text-anchor="end" textLength="20.04" lengthAdjust="spacingAndGlyphs" fill="#1a1a1a">0.05</text>
<line x1="45.8" y1="149.00" x2="48.4" y2="149.00" stroke="#333333" stroke-width="0.9"/>
<text x="43.80" y="152.30" font-size="9.90" text-anchor="end" textLength="20.04" lengthAdjust="spacingAndGlyphs" fill="#1a1a1a">0.06</text>
<line x1="45.8" y1="98.25" x2="48.4" y2="98.25" stroke="#333333" stroke-width="0.9"/>
<text x="43.80" y="101.55" font-size="9.90" text-anchor="end" textLength="20.04" lengthAdjust="spacingAndGlyphs" fill="#1a1a1a">0.07</text>
<line x1="45.8" y1="47.50" x2="48.4" y2="47.50" stroke="#333333" stroke-width="0.9"/>
<text x="43.80" y="50.80" font-size="9.90" text-anchor="end" textLength="20.04" lengthAdjust="spacingAndGlyphs" fill="#1a1a1a">0.08</text>
<line x1="48.40" y1="453.5" x2="48.40" y2="456.1" stroke="#333333" stroke-width="0.9"/>
<text x="48.40" y="465.20" font-size="9.90" text-anchor="middle" textLength="36.17" lengthAdjust="spacingAndGlyphs" fill="#1a1a1a">−10000</text>
<line x1="141.20" y1="453.5" x2="141.20" y2="456.1" stroke="#333333" stroke-width="0.9"/>
<text x="141.20" y="465.20" font-size="9.90" text-anchor="middle" textLength="30.45" lengthAdjust="spacingAndGlyphs" fill="#1a1a1a">−8000</text>
<line x1="234.00" y1="453.5" x2="234.00" y2="456.1" stroke="#333333" stroke-width="0.9"/>
<text x="234.00" y="465.20" font-size="9.90" text-anchor="middle" textLength="30.45" lengthAdjust="spacingAndGlyphs" fill="#1a1a1a">−6000</text>
<line x1="326.80" y1="453.5" x2="326.80" y2="456.1" stroke="#333333" stroke-width="0.9"/>
<text x="326.80" y="465.20" font-size="9.90" text-anchor="middle" textLength="30.45" lengthAdjust="spacingAndGlyphs" fill="#1a1a1a">−4000</text>
<line x1="419.60" y1="453.5" x2="419.60" y2="456.1" stroke="#333333" stroke-width="0.9"/>
<text x="419.60" y="465.20" font-size="9.90" text-anchor="middle" textLength="30.45" lengthAdjust="spacingAndGlyphs" fill="#1a1a1a">−2000</text>
<line x1="512.40" y1="453.5" x2="512.40" y2="456.1" stroke="#333333" stroke-width="0.9"/>
<text x="512.40" y="465.20" font-size="9.90" text-anchor="middle" textLength="5.73" lengthAdjust="spacingAndGlyphs" fill="#1a1a1a">0</text>
<line x1="605.20" y1="453.5" x2="605.20" y2="456.1" stroke="#333333" stroke-width="0.9"/>
<text x="605.20" y="465.20" font-size="9.90" text-anchor="middle" textLength="22.90" lengthAdjust="spacingAndGlyphs" fill="#1a1a1a">2000</text>
<text x="347.60" y="477.00" font-size="11.50" text-anchor="middle" textLength="52.67" lengthAdjust="spacingAndGlyphs" fill="#1a1a1a">Time (ms)</text>
<text x="18.80" y="250.50" font-size="11.61" text-anchor="middle" textLength="90.92" lengthAdjust="spacingAndGlyphs" fill="#1a1a1a" transform="rotate(-90 18.80 250.50)">Median Bid Value</text>
<rect x="52.6" y="52.4" width="141.8" height="260.0" rx="2" ry="2" fill="#fff" fill-opacity="0.8" stroke="#dedede" stroke-width="0.9"/>
<text x="123.50" y="63.00" font-size="10.12" text-anchor="middle" textLength="37.33" lengthAdjust="spacingAndGlyphs" fill="#1a1a1a">Builders</text>
<circle cx="65.8" cy="73.10" r="2.8" fill="#f77189"/>
<text x="82.60" y="76.60" font-size="10.12" text-anchor="start" textLength="73.01" lengthAdjust="spacingAndGlyphs" fill="#1a1a1a">Flashbots: 0x81</text>
<circle cx="65.8" cy="86.64" r="2.8" fill="#f8763b"/>
<text x="82.60" y="90.14" font-size="10.12" text-anchor="start" textLength="72.79" lengthAdjust="spacingAndGlyphs" fill="#1a1a1a">Flashbots: 0xa1</text>
<circle cx="65.8" cy="100.18" r="2.8" fill="#d28e32"/>
<text x="82.60" y="103.68" font-size="10.12" text-anchor="start" textLength="87.30" lengthAdjust="spacingAndGlyphs" fill="#1a1a1a">Titan Builder: 0x94</text>
<circle cx="65.8" cy="113.72" r="2.8" fill="#b79932"/>
<text x="82.60" y="117.22" font-size="10.12" text-anchor="start" textLength="87.30" lengthAdjust="spacingAndGlyphs" fill="#1a1a1a">Titan Builder: 0x95</text>
<circle cx="65.8" cy="127.26" r="2.8" fill="#9ea231"/>
<text x="82.60" y="130.76" font-size="10.12" text-anchor="start" textLength="87.28" lengthAdjust="spacingAndGlyphs" fill="#1a1a1a">Titan Builder: 0xb2</text>
<circle cx="65.8" cy="140.80" r="2.8" fill="#7caa31"/>
<text x="82.60" y="144.30" font-size="10.12" text-anchor="start" textLength="87.28" lengthAdjust="spacingAndGlyphs" fill="#1a1a1a">Titan Builder: 0xb6</text>
<circle cx="65.8" cy="154.34" r="2.8" fill="#31b345"/>
<text x="82.60" y="157.84" font-size="10.12" text-anchor="start" textLength="101.69" lengthAdjust="spacingAndGlyphs" fill="#1a1a1a">beaverbuild.org: 0x96</text>
<circle cx="65.8" cy="167.88" r="2.8" fill="#34b081"/>
<text x="82.60" y="171.38" font-size="10.12" text-anchor="start" textLength="101.68" lengthAdjust="spacingAndGlyphs" fill="#1a1a1a">beaverbuild.org: 0xb5</text>
<circle cx="65.8" cy="181.42" r="2.8" fill="#35ae9a"/>
<text x="82.60" y="184.92" font-size="10.12" text-anchor="start" textLength="84.09" lengthAdjust="spacingAndGlyphs" fill="#1a1a1a">builder0x69: 0x8b</text>
<circle cx="65.8" cy="194.96" r="2.8" fill="#36acad"/>
<text x="82.60" y="198.46" font-size="10.12" text-anchor="start" textLength="83.88" lengthAdjust="spacingAndGlyphs" fill="#1a1a1a">builder0x69: 0xa4</text>
<circle cx="65.8" cy="208.50" r="2.8" fill="#38aac1"/>
<text x="82.60" y="212.00" font-size="10.12" text-anchor="start" textLength="83.88" lengthAdjust="spacingAndGlyphs" fill="#1a1a1a">builder0x69: 0xa9</text>
<circle cx="65.8" cy="222.04" r="2.8" fill="#3aa6dd"/>
<text x="82.60" y="225.54" font-size="10.12" text-anchor="start" textLength="84.09" lengthAdjust="spacingAndGlyphs" fill="#1a1a1a">builder0x69: 0xb1</text>
<circle cx="65.8" cy="235.58" r="2.8" fill="#7699f4"/>
<text x="82.60" y="239.08" font-size="10.12" text-anchor="start" textLength="54.84" lengthAdjust="spacingAndGlyphs" fill="#1a1a1a">f1b.io: 0xab</text>
<circle cx="65.8" cy="249.12" r="2.8" fill="#b087f4"/>
<text x="82.60" y="252.62" font-size="10.12" text-anchor="start" textLength="107.12" lengthAdjust="spacingAndGlyphs" fill="#1a1a1a">rsync-builder.xyz: 0x83</text>
<circle cx="65.8" cy="262.66" r="2.8" fill="#df6df4"/>
<text x="82.60" y="266.16" font-size="10.12" text-anchor="start" textLength="106.91" lengthAdjust="spacingAndGlyphs" fill="#1a1a1a">rsync-builder.xyz: 0x8a</text>
<circle cx="65.8" cy="276.20" r="2.8" fill="#f563d8"/>
<text x="82.60" y="279.70" font-size="10.12" text-anchor="start" textLength="107.12" lengthAdjust="spacingAndGlyphs" fill="#1a1a1a">rsync-builder.xyz: 0x97</text>
<circle cx="65.8" cy="289.74" r="2.8" fill="#f66ab2"/>
<text x="82.60" y="293.24" font-size="10.12" text-anchor="start" textLength="106.11" lengthAdjust="spacingAndGlyphs" fill="#1a1a1a">rsync-builder.xyz: 0xac</text>
<circle cx="65.8" cy="303.28" r="2.8" fill="#808080"/>
<text x="82.60" y="306.78" font-size="10.12" text-anchor="start" textLength="78.17" lengthAdjust="spacingAndGlyphs" fill="#1a1a1a">Unknown Builder</text>
<defs><clipPath id="cb"><rect x="782" y="0" width="232.4" height="490"/></clipPath></defs>
<text x="667.60" y="39.10" font-size="27.14" text-anchor="start" font-weight="bold" textLength="19.51" lengthAdjust="spacingAndGlyphs" fill="#000">B</text>
<text x="898.30" y="43.70" font-size="12.18" text-anchor="middle" textLength="134.26" lengthAdjust="spacingAndGlyphs" fill="#1a1a1a">All bids submission time</text>
<line x1="864.9" y1="52.40" x2="922.4" y2="52.40" stroke="#3f3f3f" stroke-width="1.3"/>
<line x1="961.6" y1="52.40" x2="1014.2" y2="52.40" stroke="#3f3f3f" stroke-width="1.3"/>
<line x1="864.9" y1="50.20" x2="864.9" y2="54.60" stroke="#3f3f3f" stroke-width="1.3"/>
<rect x="922.4" y="48.40" width="39.20" height="8.0" fill="#86a0e5" stroke="#3f3f3f" stroke-width="1.1"/>
<line x1="948.2" y1="48.40" x2="948.2" y2="56.40" stroke="#3f3f3f" stroke-width="1.3"/>
<line x1="779.8" y1="52.40" x2="782.4" y2="52.40" stroke="#333333" stroke-width="0.9"/>
<text x="777.80" y="55.70" font-size="9.90" text-anchor="end" textLength="53.65" lengthAdjust="spacingAndGlyphs" fill="#1a1a1a">f1b.io: 0xab</text>
<line x1="886.1" y1="62.47" x2="928.3" y2="62.47" stroke="#3f3f3f" stroke-width="1.3"/>
<line x1="957.2" y1="62.47" x2="999.7" y2="62.47" stroke="#3f3f3f" stroke-width="1.3"/>
<line x1="886.1" y1="60.27" x2="886.1" y2="64.67" stroke="#3f3f3f" stroke-width="1.3"/>
<line x1="999.7" y1="60.27" x2="999.7" y2="64.67" stroke="#3f3f3f" stroke-width="1.3"/>
<rect x="928.3" y="58.47" width="28.90" height="8.0" fill="#4e9fc9" stroke="#3f3f3f" stroke-width="1.1"/>
<line x1="942.5" y1="58.47" x2="942.5" y2="66.47" stroke="#3f3f3f" stroke-width="1.3"/>
<line x1="779.8" y1="62.47" x2="782.4" y2="62.47" stroke="#333333" stroke-width="0.9"/>
<text x="777.80" y="65.77" font-size="9.90" text-anchor="end" textLength="82.26" lengthAdjust="spacingAndGlyphs" fill="#1a1a1a">builder0x69: 0xb1</text>
<line x1="886.1" y1="72.54" x2="928.3" y2="72.54" stroke="#3f3f3f" stroke-width="1.3"/>
<line x1="957.5" y1="72.54" x2="1000.0" y2="72.54" stroke="#3f3f3f" stroke-width="1.3"/>
<line x1="886.1" y1="70.34" x2="886.1" y2="74.74" stroke="#3f3f3f" stroke-width="1.3"/>
<line x1="1000.0" y1="70.34" x2="1000.0" y2="74.74" stroke="#3f3f3f" stroke-width="1.3"/>
<rect x="928.3" y="68.54" width="29.20" height="8.0" fill="#499eaf" stroke="#3f3f3f" stroke-width="1.1"/>
<line x1="942.5" y1="68.54" x2="942.5" y2="76.54" stroke="#3f3f3f" stroke-width="1.3"/>
<line x1="779.8" y1="72.54" x2="782.4" y2="72.54" stroke="#333333" stroke-width="0.9"/>
<text x="777.80" y="75.84" font-size="9.90" text-anchor="end" textLength="82.06" lengthAdjust="spacingAndGlyphs" fill="#1a1a1a">builder0x69: 0xa9</text>
<line x1="909.0" y1="82.61" x2="921.9" y2="82.61" stroke="#3f3f3f" stroke-width="1.3"/>
<line x1="953.9" y1="82.61" x2="1002.3" y2="82.61" stroke="#3f3f3f" stroke-width="1.3"/>
<line x1="909.0" y1="80.41" x2="909.0" y2="84.81" stroke="#3f3f3f" stroke-width="1.3"/>
<line x1="1002.3" y1="80.41" x2="1002.3" y2="84.81" stroke="#3f3f3f" stroke-width="1.3"/>
<rect x="921.9" y="78.61" width="32.00" height="8.0" fill="#43a07d" stroke="#3f3f3f" stroke-width="1.1"/>
<line x1="937.1" y1="78.61" x2="937.1" y2="86.61" stroke="#3f3f3f" stroke-width="1.3"/>
<line x1="779.8" y1="82.61" x2="782.4" y2="82.61" stroke="#333333" stroke-width="0.9"/>
<text x="777.80" y="85.91" font-size="9.90" text-anchor="end" textLength="99.47" lengthAdjust="spacingAndGlyphs" fill="#1a1a1a">beaverbuild.org: 0xb5</text>
<line x1="909.0" y1="92.68" x2="921.9" y2="92.68" stroke="#3f3f3f" stroke-width="1.3"/>
<line x1="953.4" y1="92.68" x2="1001.6" y2="92.68" stroke="#3f3f3f" stroke-width="1.3"/>
<line x1="909.0" y1="90.48" x2="909.0" y2="94.88" stroke="#3f3f3f" stroke-width="1.3"/>
<line x1="1001.6" y1="90.48" x2="1001.6" y2="94.88" stroke="#3f3f3f" stroke-width="1.3"/>
<rect x="921.9" y="88.68" width="31.50" height="8.0" fill="#42a350" stroke="#3f3f3f" stroke-width="1.1"/>
<line x1="937.1" y1="88.68" x2="937.1" y2="96.68" stroke="#3f3f3f" stroke-width="1.3"/>
<line x1="779.8" y1="92.68" x2="782.4" y2="92.68" stroke="#333333" stroke-width="0.9"/>
<text x="777.80" y="95.98" font-size="9.90" text-anchor="end" textLength="99.48" lengthAdjust="spacingAndGlyphs" fill="#1a1a1a">beaverbuild.org: 0x96</text>
<line x1="888.9" y1="102.75" x2="916.5" y2="102.75" stroke="#3f3f3f" stroke-width="1.3"/>
<line x1="952.6" y1="102.75" x2="1007.0" y2="102.75" stroke="#3f3f3f" stroke-width="1.3"/>
<line x1="888.9" y1="100.55" x2="888.9" y2="104.95" stroke="#3f3f3f" stroke-width="1.3"/>
<line x1="1007.0" y1="100.55" x2="1007.0" y2="104.95" stroke="#3f3f3f" stroke-width="1.3"/>
<rect x="916.5" y="98.75" width="36.10" height="8.0" fill="#789b40" stroke="#3f3f3f" stroke-width="1.1"/>
<line x1="934.5" y1="98.75" x2="934.5" y2="106.75" stroke="#3f3f3f" stroke-width="1.3"/>
<line x1="779.8" y1="102.75" x2="782.4" y2="102.75" stroke="#333333" stroke-width="0.9"/>
<text x="777.80" y="106.05" font-size="9.90" text-anchor="end" textLength="85.39" lengthAdjust="spacingAndGlyphs" fill="#1a1a1a">Titan Builder: 0xb6</text>
<line x1="888.1" y1="112.82" x2="910.8" y2="112.82" stroke="#3f3f3f" stroke-width="1.3"/>
<line x1="950.8" y1="112.82" x2="1009.5" y2="112.82" stroke="#3f3f3f" stroke-width="1.3"/>
<line x1="888.1" y1="110.62" x2="888.1" y2="115.02" stroke="#3f3f3f" stroke-width="1.3"/>
<line x1="1009.5" y1="110.62" x2="1009.5" y2="115.02" stroke="#3f3f3f" stroke-width="1.3"/>
<rect x="910.8" y="108.82" width="40.00" height="8.0" fill="#be8b46" stroke="#3f3f3f" stroke-width="1.1"/>
<line x1="930.9" y1="108.82" x2="930.9" y2="116.82" stroke="#3f3f3f" stroke-width="1.3"/>
<line x1="779.8" y1="112.82" x2="782.4" y2="112.82" stroke="#333333" stroke-width="0.9"/>
<text x="777.80" y="116.12" font-size="9.90" text-anchor="end" textLength="85.40" lengthAdjust="spacingAndGlyphs" fill="#1a1a1a">Titan Builder: 0x94</text>
<line x1="888.5" y1="122.89" x2="910.5" y2="122.89" stroke="#3f3f3f" stroke-width="1.3"/>
<line x1="950.4" y1="122.89" x2="1009.2" y2="122.89" stroke="#3f3f3f" stroke-width="1.3"/>
<line x1="888.5" y1="120.69" x2="888.5" y2="125.09" stroke="#3f3f3f" stroke-width="1.3"/>
<line x1="1009.2" y1="120.69" x2="1009.2" y2="125.09" stroke="#3f3f3f" stroke-width="1.3"/>
<rect x="910.5" y="118.89" width="39.90" height="8.0" fill="#91943f" stroke="#3f3f3f" stroke-width="1.1"/>
<line x1="930.4" y1="118.89" x2="930.4" y2="126.89" stroke="#3f3f3f" stroke-width="1.3"/>
<line x1="779.8" y1="122.89" x2="782.4" y2="122.89" stroke="#333333" stroke-width="0.9"/>
<text x="777.80" y="126.19" font-size="9.90" text-anchor="end" textLength="85.39" lengthAdjust="spacingAndGlyphs" fill="#1a1a1a">Titan Builder: 0xb2</text>
<line x1="888.7" y1="132.96" x2="910.7" y2="132.96" stroke="#3f3f3f" stroke-width="1.3"/>
<line x1="950.0" y1="132.96" x2="1008.9" y2="132.96" stroke="#3f3f3f" stroke-width="1.3"/>
<line x1="888.7" y1="130.76" x2="888.7" y2="135.16" stroke="#3f3f3f" stroke-width="1.3"/>
<line x1="1008.9" y1="130.76" x2="1008.9" y2="135.16" stroke="#3f3f3f" stroke-width="1.3"/>
<rect x="910.7" y="128.96" width="39.30" height="8.0" fill="#a79042" stroke="#3f3f3f" stroke-width="1.1"/>
<line x1="930.6" y1="128.96" x2="930.6" y2="136.96" stroke="#3f3f3f" stroke-width="1.3"/>
<line x1="779.8" y1="132.96" x2="782.4" y2="132.96" stroke="#333333" stroke-width="0.9"/>
<text x="777.80" y="136.26" font-size="9.90" text-anchor="end" textLength="85.40" lengthAdjust="spacingAndGlyphs" fill="#1a1a1a">Titan Builder: 0x95</text>
<line x1="866.7" y1="143.03" x2="905.9" y2="143.03" stroke="#3f3f3f" stroke-width="1.3"/>
<line x1="948.9" y1="143.03" x2="1014.2" y2="143.03" stroke="#3f3f3f" stroke-width="1.3"/>
<line x1="866.7" y1="140.83" x2="866.7" y2="145.23" stroke="#3f3f3f" stroke-width="1.3"/>
<rect x="905.9" y="139.03" width="43.00" height="8.0" fill="#459d9e" stroke="#3f3f3f" stroke-width="1.1"/>
<line x1="927.2" y1="139.03" x2="927.2" y2="147.03" stroke="#3f3f3f" stroke-width="1.3"/>
<line x1="779.8" y1="143.03" x2="782.4" y2="143.03" stroke="#333333" stroke-width="0.9"/>
<text x="777.80" y="146.33" font-size="9.90" text-anchor="end" textLength="82.06" lengthAdjust="spacingAndGlyphs" fill="#1a1a1a">builder0x69: 0xa4</text>
<line x1="866.7" y1="153.10" x2="901.2" y2="153.10" stroke="#3f3f3f" stroke-width="1.3"/>
<line x1="946.8" y1="153.10" x2="1014.2" y2="153.10" stroke="#3f3f3f" stroke-width="1.3"/>
<line x1="866.7" y1="150.90" x2="866.7" y2="155.30" stroke="#3f3f3f" stroke-width="1.3"/>
<rect x="901.2" y="149.10" width="45.60" height="8.0" fill="#449f90" stroke="#3f3f3f" stroke-width="1.1"/>
<line x1="923.2" y1="149.10" x2="923.2" y2="157.10" stroke="#3f3f3f" stroke-width="1.3"/>
<line x1="779.8" y1="153.10" x2="782.4" y2="153.10" stroke="#333333" stroke-width="0.9"/>
<text x="777.80" y="156.40" font-size="9.90" text-anchor="end" textLength="82.26" lengthAdjust="spacingAndGlyphs" fill="#1a1a1a">builder0x69: 0x8b</text>
<line x1="851.5" y1="163.17" x2="894.5" y2="163.17" stroke="#3f3f3f" stroke-width="1.3"/>
<line x1="944.4" y1="163.17" x2="1014.2" y2="163.17" stroke="#3f3f3f" stroke-width="1.3"/>
<line x1="851.5" y1="160.97" x2="851.5" y2="165.37" stroke="#3f3f3f" stroke-width="1.3"/>
<rect x="894.5" y="159.17" width="49.90" height="8.0" fill="#b495e7" stroke="#3f3f3f" stroke-width="1.1"/>
<line x1="919.5" y1="159.17" x2="919.5" y2="167.17" stroke="#3f3f3f" stroke-width="1.3"/>
<line x1="779.8" y1="163.17" x2="782.4" y2="163.17" stroke="#333333" stroke-width="0.9"/>
<text x="777.80" y="166.47" font-size="9.90" text-anchor="end" textLength="104.79" lengthAdjust="spacingAndGlyphs" fill="#1a1a1a">rsync-builder.xyz: 0x83</text>
<line x1="868.0" y1="173.24" x2="892.1" y2="173.24" stroke="#3f3f3f" stroke-width="1.3"/>
<line x1="944.4" y1="173.24" x2="1014.2" y2="173.24" stroke="#3f3f3f" stroke-width="1.3"/>
<line x1="868.0" y1="171.04" x2="868.0" y2="175.44" stroke="#3f3f3f" stroke-width="1.3"/>
<rect x="892.1" y="169.24" width="52.30" height="8.0" fill="#e07f53" stroke="#3f3f3f" stroke-width="1.1"/>
<line x1="918.4" y1="169.24" x2="918.4" y2="177.24" stroke="#3f3f3f" stroke-width="1.3"/>
<line x1="779.8" y1="173.24" x2="782.4" y2="173.24" stroke="#333333" stroke-width="0.9"/>
<text x="777.80" y="176.54" font-size="9.90" text-anchor="end" textLength="71.21" lengthAdjust="spacingAndGlyphs" fill="#1a1a1a">Flashbots: 0xa1</text>
<line x1="856.0" y1="183.31" x2="891.3" y2="183.31" stroke="#3f3f3f" stroke-width="1.3"/>
<line x1="943.1" y1="183.31" x2="1014.2" y2="183.31" stroke="#3f3f3f" stroke-width="1.3"/>
<line x1="856.0" y1="181.11" x2="856.0" y2="185.51" stroke="#3f3f3f" stroke-width="1.3"/>
<rect x="891.3" y="179.31" width="51.80" height="8.0" fill="#e57cb2" stroke="#3f3f3f" stroke-width="1.1"/>
<line x1="918.4" y1="179.31" x2="918.4" y2="187.31" stroke="#3f3f3f" stroke-width="1.3"/>
<line x1="779.8" y1="183.31" x2="782.4" y2="183.31" stroke="#333333" stroke-width="0.9"/>
<text x="777.80" y="186.61" font-size="9.90" text-anchor="end" textLength="103.80" lengthAdjust="spacingAndGlyphs" fill="#1a1a1a">rsync-builder.xyz: 0xac</text>
<line x1="852.0" y1="193.38" x2="892.7" y2="193.38" stroke="#3f3f3f" stroke-width="1.3"/>
<line x1="943.1" y1="193.38" x2="1014.2" y2="193.38" stroke="#3f3f3f" stroke-width="1.3"/>
<line x1="852.0" y1="191.18" x2="852.0" y2="195.58" stroke="#3f3f3f" stroke-width="1.3"/>
<rect x="892.7" y="189.38" width="50.40" height="8.0" fill="#e375cd" stroke="#3f3f3f" stroke-width="1.1"/>
<line x1="918.4" y1="189.38" x2="918.4" y2="197.38" stroke="#3f3f3f" stroke-width="1.3"/>
<line x1="779.8" y1="193.38" x2="782.4" y2="193.38" stroke="#333333" stroke-width="0.9"/>
<text x="777.80" y="196.68" font-size="9.90" text-anchor="end" textLength="104.79" lengthAdjust="spacingAndGlyphs" fill="#1a1a1a">rsync-builder.xyz: 0x97</text>
<line x1="852.0" y1="203.45" x2="891.1" y2="203.45" stroke="#3f3f3f" stroke-width="1.3"/>
<line x1="942.5" y1="203.45" x2="1014.2" y2="203.45" stroke="#3f3f3f" stroke-width="1.3"/>
<line x1="852.0" y1="201.25" x2="852.0" y2="205.65" stroke="#3f3f3f" stroke-width="1.3"/>
<rect x="891.1" y="199.45" width="51.40" height="8.0" fill="#d47ee3" stroke="#3f3f3f" stroke-width="1.1"/>
<line x1="917.6" y1="199.45" x2="917.6" y2="207.45" stroke="#3f3f3f" stroke-width="1.3"/>
<line x1="779.8" y1="203.45" x2="782.4" y2="203.45" stroke="#333333" stroke-width="0.9"/>
<text x="777.80" y="206.75" font-size="9.90" text-anchor="end" textLength="104.58" lengthAdjust="spacingAndGlyphs" fill="#1a1a1a">rsync-builder.xyz: 0x8a</text>
<line x1="820.5" y1="213.52" x2="890.8" y2="213.52" stroke="#3f3f3f" stroke-width="1.3"/>
<line x1="937.2" y1="213.52" x2="1007.5" y2="213.52" stroke="#3f3f3f" stroke-width="1.3"/>
<line x1="820.5" y1="211.32" x2="820.5" y2="215.72" stroke="#3f3f3f" stroke-width="1.3"/>
<line x1="1007.5" y1="211.32" x2="1007.5" y2="215.72" stroke="#3f3f3f" stroke-width="1.3"/>
<rect x="890.8" y="209.52" width="46.40" height="8.0" fill="#e68193" stroke="#3f3f3f" stroke-width="1.1"/>
<line x1="913.4" y1="209.52" x2="913.4" y2="217.52" stroke="#3f3f3f" stroke-width="1.3"/>
<line x1="779.8" y1="213.52" x2="782.4" y2="213.52" stroke="#333333" stroke-width="0.9"/>
<text x="777.80" y="216.82" font-size="9.90" text-anchor="end" textLength="71.42" lengthAdjust="spacingAndGlyphs" fill="#1a1a1a">Flashbots: 0x81</text>
<line x1="950.8" y1="47.5" x2="950.8" y2="218.6" stroke="#111" stroke-width="1.5"/>
<path d="M782.4,47.5 V218.6 H1014.2" fill="none" stroke="#333333" stroke-width="0.9"/>
<line x1="782.24" y1="218.6" x2="782.24" y2="221.2" stroke="#333333" stroke-width="0.9"/>
<text x="782.24" y="229.70" font-size="9.90" text-anchor="middle" textLength="30.45" lengthAdjust="spacingAndGlyphs" fill="#1a1a1a">−8000</text>
<line x1="824.38" y1="218.6" x2="824.38" y2="221.2" stroke="#333333" stroke-width="0.9"/>
<text x="824.38" y="229.70" font-size="9.90" text-anchor="middle" textLength="30.45" lengthAdjust="spacingAndGlyphs" fill="#1a1a1a">−6000</text>
<line x1="866.52" y1="218.6" x2="866.52" y2="221.2" stroke="#333333" stroke-width="0.9"/>
<text x="866.52" y="229.70" font-size="9.90" text-anchor="middle" textLength="30.45" lengthAdjust="spacingAndGlyphs" fill="#1a1a1a">−4000</text>
<line x1="908.66" y1="218.6" x2="908.66" y2="221.2" stroke="#333333" stroke-width="0.9"/>
<text x="908.66" y="229.70" font-size="9.90" text-anchor="middle" textLength="30.45" lengthAdjust="spacingAndGlyphs" fill="#1a1a1a">−2000</text>
<line x1="950.80" y1="218.6" x2="950.80" y2="221.2" stroke="#333333" stroke-width="0.9"/>
<text x="950.80" y="229.70" font-size="9.90" text-anchor="middle" textLength="5.73" lengthAdjust="spacingAndGlyphs" fill="#1a1a1a">0</text>
<line x1="992.94" y1="218.6" x2="992.94" y2="221.2" stroke="#333333" stroke-width="0.9"/>
<text x="992.94" y="229.70" font-size="9.90" text-anchor="middle" textLength="22.90" lengthAdjust="spacingAndGlyphs" fill="#1a1a1a">2000</text>
<text x="898.30" y="242.00" font-size="11.50" text-anchor="middle" textLength="52.67" lengthAdjust="spacingAndGlyphs" fill="#1a1a1a">Time (ms)</text>
<text x="667.20" y="133.85" font-size="11.66" text-anchor="middle" textLength="43.01" lengthAdjust="spacingAndGlyphs" fill="#1a1a1a" transform="rotate(-90 667.20 133.85)">Builders</text>
<text x="667.60" y="273.90" font-size="27.14" text-anchor="start" font-weight="bold" textLength="18.79" lengthAdjust="spacingAndGlyphs" fill="#000">C</text>
<text x="898.30" y="278.90" font-size="12.18" text-anchor="middle" textLength="165.46" lengthAdjust="spacingAndGlyphs" fill="#1a1a1a">Winning bids submission time</text>
<line x1="937.5" y1="287.40" x2="950.8" y2="287.40" stroke="#3f3f3f" stroke-width="1.3"/>
<line x1="960.6" y1="287.40" x2="974.9" y2="287.40" stroke="#3f3f3f" stroke-width="1.3"/>
<line x1="937.5" y1="285.20" x2="937.5" y2="289.60" stroke="#3f3f3f" stroke-width="1.3"/>
<line x1="974.9" y1="285.20" x2="974.9" y2="289.60" stroke="#3f3f3f" stroke-width="1.3"/>
<rect x="950.8" y="283.40" width="9.80" height="8.0" fill="#86a0e5" stroke="#3f3f3f" stroke-width="1.1"/>
<line x1="954.8" y1="283.40" x2="954.8" y2="291.40" stroke="#3f3f3f" stroke-width="1.3"/>
<line x1="779.8" y1="287.40" x2="782.4" y2="287.40" stroke="#333333" stroke-width="0.9"/>
<text x="777.80" y="290.70" font-size="9.90" text-anchor="end" textLength="53.65" lengthAdjust="spacingAndGlyphs" fill="#1a1a1a">f1b.io: 0xab</text>
<line x1="938.6" y1="297.46" x2="950.8" y2="297.46" stroke="#3f3f3f" stroke-width="1.3"/>
<line x1="959.6" y1="297.46" x2="972.1" y2="297.46" stroke="#3f3f3f" stroke-width="1.3"/>
<line x1="938.6" y1="295.26" x2="938.6" y2="299.66" stroke="#3f3f3f" stroke-width="1.3"/>
<line x1="972.1" y1="295.26" x2="972.1" y2="299.66" stroke="#3f3f3f" stroke-width="1.3"/>
<rect x="950.8" y="293.46" width="8.80" height="8.0" fill="#4e9fc9" stroke="#3f3f3f" stroke-width="1.1"/>
<line x1="954.5" y1="293.46" x2="954.5" y2="301.46" stroke="#3f3f3f" stroke-width="1.3"/>
<line x1="779.8" y1="297.46" x2="782.4" y2="297.46" stroke="#333333" stroke-width="0.9"/>
<text x="777.80" y="300.76" font-size="9.90" text-anchor="end" textLength="82.26" lengthAdjust="spacingAndGlyphs" fill="#1a1a1a">builder0x69: 0xb1</text>
<line x1="938.6" y1="307.52" x2="950.8" y2="307.52" stroke="#3f3f3f" stroke-width="1.3"/>
<line x1="960.0" y1="307.52" x2="972.4" y2="307.52" stroke="#3f3f3f" stroke-width="1.3"/>
<line x1="938.6" y1="305.32" x2="938.6" y2="309.72" stroke="#3f3f3f" stroke-width="1.3"/>
<line x1="972.4" y1="305.32" x2="972.4" y2="309.72" stroke="#3f3f3f" stroke-width="1.3"/>
<rect x="950.8" y="303.52" width="9.20" height="8.0" fill="#499eaf" stroke="#3f3f3f" stroke-width="1.1"/>
<line x1="954.5" y1="303.52" x2="954.5" y2="311.52" stroke="#3f3f3f" stroke-width="1.3"/>
<line x1="779.8" y1="307.52" x2="782.4" y2="307.52" stroke="#333333" stroke-width="0.9"/>
<text x="777.80" y="310.82" font-size="9.90" text-anchor="end" textLength="82.06" lengthAdjust="spacingAndGlyphs" fill="#1a1a1a">builder0x69: 0xa9</text>
<line x1="939.1" y1="317.58" x2="950.8" y2="317.58" stroke="#3f3f3f" stroke-width="1.3"/>
<line x1="960.4" y1="317.58" x2="973.3" y2="317.58" stroke="#3f3f3f" stroke-width="1.3"/>
<line x1="939.1" y1="315.38" x2="939.1" y2="319.78" stroke="#3f3f3f" stroke-width="1.3"/>
<line x1="973.3" y1="315.38" x2="973.3" y2="319.78" stroke="#3f3f3f" stroke-width="1.3"/>
<rect x="950.8" y="313.58" width="9.60" height="8.0" fill="#43a07d" stroke="#3f3f3f" stroke-width="1.1"/>
<line x1="954.8" y1="313.58" x2="954.8" y2="321.58" stroke="#3f3f3f" stroke-width="1.3"/>
<line x1="779.8" y1="317.58" x2="782.4" y2="317.58" stroke="#333333" stroke-width="0.9"/>
<text x="777.80" y="320.88" font-size="9.90" text-anchor="end" textLength="99.47" lengthAdjust="spacingAndGlyphs" fill="#1a1a1a">beaverbuild.org: 0xb5</text>
<line x1="938.9" y1="327.64" x2="950.8" y2="327.64" stroke="#3f3f3f" stroke-width="1.3"/>
<line x1="959.1" y1="327.64" x2="971.4" y2="327.64" stroke="#3f3f3f" stroke-width="1.3"/>
<line x1="938.9" y1="325.44" x2="938.9" y2="329.84" stroke="#3f3f3f" stroke-width="1.3"/>
<line x1="971.4" y1="325.44" x2="971.4" y2="329.84" stroke="#3f3f3f" stroke-width="1.3"/>
<rect x="950.8" y="323.64" width="8.30" height="8.0" fill="#42a350" stroke="#3f3f3f" stroke-width="1.1"/>
<line x1="954.2" y1="323.64" x2="954.2" y2="331.64" stroke="#3f3f3f" stroke-width="1.3"/>
<line x1="779.8" y1="327.64" x2="782.4" y2="327.64" stroke="#333333" stroke-width="0.9"/>
<text x="777.80" y="330.94" font-size="9.90" text-anchor="end" textLength="99.48" lengthAdjust="spacingAndGlyphs" fill="#1a1a1a">beaverbuild.org: 0x96</text>
<line x1="938.4" y1="337.70" x2="950.5" y2="337.70" stroke="#3f3f3f" stroke-width="1.3"/>
<line x1="957.5" y1="337.70" x2="969.2" y2="337.70" stroke="#3f3f3f" stroke-width="1.3"/>
<line x1="938.4" y1="335.50" x2="938.4" y2="339.90" stroke="#3f3f3f" stroke-width="1.3"/>
<line x1="969.2" y1="335.50" x2="969.2" y2="339.90" stroke="#3f3f3f" stroke-width="1.3"/>
<rect x="950.5" y="333.70" width="7.00" height="8.0" fill="#789b40" stroke="#3f3f3f" stroke-width="1.1"/>
<line x1="953.6" y1="333.70" x2="953.6" y2="341.70" stroke="#3f3f3f" stroke-width="1.3"/>
<line x1="779.8" y1="337.70" x2="782.4" y2="337.70" stroke="#333333" stroke-width="0.9"/>
<text x="777.80" y="341.00" font-size="9.90" text-anchor="end" textLength="85.39" lengthAdjust="spacingAndGlyphs" fill="#1a1a1a">Titan Builder: 0xb6</text>
<line x1="937.5" y1="347.76" x2="950.8" y2="347.76" stroke="#3f3f3f" stroke-width="1.3"/>
<line x1="958.5" y1="347.76" x2="970.1" y2="347.76" stroke="#3f3f3f" stroke-width="1.3"/>
<line x1="937.5" y1="345.56" x2="937.5" y2="349.96" stroke="#3f3f3f" stroke-width="1.3"/>
<line x1="970.1" y1="345.56" x2="970.1" y2="349.96" stroke="#3f3f3f" stroke-width="1.3"/>
<rect x="950.8" y="343.76" width="7.70" height="8.0" fill="#be8b46" stroke="#3f3f3f" stroke-width="1.1"/>
<line x1="953.3" y1="343.76" x2="953.3" y2="351.76" stroke="#3f3f3f" stroke-width="1.3"/>
<line x1="779.8" y1="347.76" x2="782.4" y2="347.76" stroke="#333333" stroke-width="0.9"/>
<text x="777.80" y="351.06" font-size="9.90" text-anchor="end" textLength="85.40" lengthAdjust="spacingAndGlyphs" fill="#1a1a1a">Titan Builder: 0x94</text>
<line x1="936.4" y1="357.82" x2="949.5" y2="357.82" stroke="#3f3f3f" stroke-width="1.3"/>
<line x1="958.5" y1="357.82" x2="971.6" y2="357.82" stroke="#3f3f3f" stroke-width="1.3"/>
<line x1="936.4" y1="355.62" x2="936.4" y2="360.02" stroke="#3f3f3f" stroke-width="1.3"/>
<line x1="971.6" y1="355.62" x2="971.6" y2="360.02" stroke="#3f3f3f" stroke-width="1.3"/>
<rect x="949.5" y="353.82" width="9.00" height="8.0" fill="#91943f" stroke="#3f3f3f" stroke-width="1.1"/>
<line x1="953.3" y1="353.82" x2="953.3" y2="361.82" stroke="#3f3f3f" stroke-width="1.3"/>
<line x1="779.8" y1="357.82" x2="782.4" y2="357.82" stroke="#333333" stroke-width="0.9"/>
<text x="777.80" y="361.12" font-size="9.90" text-anchor="end" textLength="85.39" lengthAdjust="spacingAndGlyphs" fill="#1a1a1a">Titan Builder: 0xb2</text>
<line x1="937.2" y1="367.88" x2="950.8" y2="367.88" stroke="#3f3f3f" stroke-width="1.3"/>
<line x1="958.5" y1="367.88" x2="971.0" y2="367.88" stroke="#3f3f3f" stroke-width="1.3"/>
<line x1="937.2" y1="365.68" x2="937.2" y2="370.08" stroke="#3f3f3f" stroke-width="1.3"/>
<line x1="971.0" y1="365.68" x2="971.0" y2="370.08" stroke="#3f3f3f" stroke-width="1.3"/>
<rect x="950.8" y="363.88" width="7.70" height="8.0" fill="#a79042" stroke="#3f3f3f" stroke-width="1.1"/>
<line x1="953.3" y1="363.88" x2="953.3" y2="371.88" stroke="#3f3f3f" stroke-width="1.3"/>
<line x1="779.8" y1="367.88" x2="782.4" y2="367.88" stroke="#333333" stroke-width="0.9"/>
<text x="777.80" y="371.18" font-size="9.90" text-anchor="end" textLength="85.40" lengthAdjust="spacingAndGlyphs" fill="#1a1a1a">Titan Builder: 0x95</text>
<line x1="938.6" y1="377.94" x2="950.8" y2="377.94" stroke="#3f3f3f" stroke-width="1.3"/>
<line x1="960.3" y1="377.94" x2="973.3" y2="377.94" stroke="#3f3f3f" stroke-width="1.3"/>
<line x1="938.6" y1="375.74" x2="938.6" y2="380.14" stroke="#3f3f3f" stroke-width="1.3"/>
<line x1="973.3" y1="375.74" x2="973.3" y2="380.14" stroke="#3f3f3f" stroke-width="1.3"/>
<rect x="950.8" y="373.94" width="9.50" height="8.0" fill="#459d9e" stroke="#3f3f3f" stroke-width="1.1"/>
<line x1="954.5" y1="373.94" x2="954.5" y2="381.94" stroke="#3f3f3f" stroke-width="1.3"/>
<line x1="779.8" y1="377.94" x2="782.4" y2="377.94" stroke="#333333" stroke-width="0.9"/>
<text x="777.80" y="381.24" font-size="9.90" text-anchor="end" textLength="82.06" lengthAdjust="spacingAndGlyphs" fill="#1a1a1a">builder0x69: 0xa4</text>
<line x1="938.6" y1="388.00" x2="950.8" y2="388.00" stroke="#3f3f3f" stroke-width="1.3"/>
<line x1="958.8" y1="388.00" x2="971.6" y2="388.00" stroke="#3f3f3f" stroke-width="1.3"/>
<line x1="938.6" y1="385.80" x2="938.6" y2="390.20" stroke="#3f3f3f" stroke-width="1.3"/>
<line x1="971.6" y1="385.80" x2="971.6" y2="390.20" stroke="#3f3f3f" stroke-width="1.3"/>
<rect x="950.8" y="384.00" width="8.00" height="8.0" fill="#449f90" stroke="#3f3f3f" stroke-width="1.1"/>
<line x1="954.5" y1="384.00" x2="954.5" y2="392.00" stroke="#3f3f3f" stroke-width="1.3"/>
<line x1="779.8" y1="388.00" x2="782.4" y2="388.00" stroke="#333333" stroke-width="0.9"/>
<text x="777.80" y="391.30" font-size="9.90" text-anchor="end" textLength="82.26" lengthAdjust="spacingAndGlyphs" fill="#1a1a1a">builder0x69: 0x8b</text>
<line x1="938.6" y1="398.06" x2="950.8" y2="398.06" stroke="#3f3f3f" stroke-width="1.3"/>
<line x1="959.8" y1="398.06" x2="972.4" y2="398.06" stroke="#3f3f3f" stroke-width="1.3"/>
<line x1="938.6" y1="395.86" x2="938.6" y2="400.26" stroke="#3f3f3f" stroke-width="1.3"/>
<line x1="972.4" y1="395.86" x2="972.4" y2="400.26" stroke="#3f3f3f" stroke-width="1.3"/>
<rect x="950.8" y="394.06" width="9.00" height="8.0" fill="#b495e7" stroke="#3f3f3f" stroke-width="1.1"/>
<line x1="954.5" y1="394.06" x2="954.5" y2="402.06" stroke="#3f3f3f" stroke-width="1.3"/>
<line x1="779.8" y1="398.06" x2="782.4" y2="398.06" stroke="#333333" stroke-width="0.9"/>
<text x="777.80" y="401.36" font-size="9.90" text-anchor="end" textLength="104.79" lengthAdjust="spacingAndGlyphs" fill="#1a1a1a">rsync-builder.xyz: 0x83</text>
<line x1="936.1" y1="408.12" x2="948.4" y2="408.12" stroke="#3f3f3f" stroke-width="1.3"/>
<line x1="956.4" y1="408.12" x2="968.4" y2="408.12" stroke="#3f3f3f" stroke-width="1.3"/>
<line x1="936.1" y1="405.92" x2="936.1" y2="410.32" stroke="#3f3f3f" stroke-width="1.3"/>
<line x1="968.4" y1="405.92" x2="968.4" y2="410.32" stroke="#3f3f3f" stroke-width="1.3"/>
<rect x="948.4" y="404.12" width="8.00" height="8.0" fill="#e07f53" stroke="#3f3f3f" stroke-width="1.1"/>
<line x1="951.7" y1="404.12" x2="951.7" y2="412.12" stroke="#3f3f3f" stroke-width="1.3"/>
<line x1="779.8" y1="408.12" x2="782.4" y2="408.12" stroke="#333333" stroke-width="0.9"/>
<text x="777.80" y="411.42" font-size="9.90" text-anchor="end" textLength="71.21" lengthAdjust="spacingAndGlyphs" fill="#1a1a1a">Flashbots: 0xa1</text>
<line x1="939.8" y1="418.18" x2="950.8" y2="418.18" stroke="#3f3f3f" stroke-width="1.3"/>
<line x1="959.8" y1="418.18" x2="972.7" y2="418.18" stroke="#3f3f3f" stroke-width="1.3"/>
<line x1="939.8" y1="415.98" x2="939.8" y2="420.38" stroke="#3f3f3f" stroke-width="1.3"/>
<line x1="972.7" y1="415.98" x2="972.7" y2="420.38" stroke="#3f3f3f" stroke-width="1.3"/>
<rect x="950.8" y="414.18" width="9.00" height="8.0" fill="#e57cb2" stroke="#3f3f3f" stroke-width="1.1"/>
<line x1="954.5" y1="414.18" x2="954.5" y2="422.18" stroke="#3f3f3f" stroke-width="1.3"/>
<line x1="779.8" y1="418.18" x2="782.4" y2="418.18" stroke="#333333" stroke-width="0.9"/>
<text x="777.80" y="421.48" font-size="9.90" text-anchor="end" textLength="103.80" lengthAdjust="spacingAndGlyphs" fill="#1a1a1a">rsync-builder.xyz: 0xac</text>
<line x1="939.8" y1="428.24" x2="950.8" y2="428.24" stroke="#3f3f3f" stroke-width="1.3"/>
<line x1="959.4" y1="428.24" x2="971.8" y2="428.24" stroke="#3f3f3f" stroke-width="1.3"/>
<line x1="939.8" y1="426.04" x2="939.8" y2="430.44" stroke="#3f3f3f" stroke-width="1.3"/>
<line x1="971.8" y1="426.04" x2="971.8" y2="430.44" stroke="#3f3f3f" stroke-width="1.3"/>
<rect x="950.8" y="424.24" width="8.60" height="8.0" fill="#e375cd" stroke="#3f3f3f" stroke-width="1.1"/>
<line x1="954.5" y1="424.24" x2="954.5" y2="432.24" stroke="#3f3f3f" stroke-width="1.3"/>
<line x1="779.8" y1="428.24" x2="782.4" y2="428.24" stroke="#333333" stroke-width="0.9"/>
<text x="777.80" y="431.54" font-size="9.90" text-anchor="end" textLength="104.79" lengthAdjust="spacingAndGlyphs" fill="#1a1a1a">rsync-builder.xyz: 0x97</text>
<line x1="939.5" y1="438.30" x2="950.8" y2="438.30" stroke="#3f3f3f" stroke-width="1.3"/>
<line x1="959.6" y1="438.30" x2="971.6" y2="438.30" stroke="#3f3f3f" stroke-width="1.3"/>
<line x1="939.5" y1="436.10" x2="939.5" y2="440.50" stroke="#3f3f3f" stroke-width="1.3"/>
<line x1="971.6" y1="436.10" x2="971.6" y2="440.50" stroke="#3f3f3f" stroke-width="1.3"/>
<rect x="950.8" y="434.30" width="8.80" height="8.0" fill="#d47ee3" stroke="#3f3f3f" stroke-width="1.1"/>
<line x1="954.5" y1="434.30" x2="954.5" y2="442.30" stroke="#3f3f3f" stroke-width="1.3"/>
<line x1="779.8" y1="438.30" x2="782.4" y2="438.30" stroke="#333333" stroke-width="0.9"/>
<text x="777.80" y="441.60" font-size="9.90" text-anchor="end" textLength="104.58" lengthAdjust="spacingAndGlyphs" fill="#1a1a1a">rsync-builder.xyz: 0x8a</text>
<line x1="934.9" y1="448.36" x2="949.0" y2="448.36" stroke="#3f3f3f" stroke-width="1.3"/>
<line x1="958.5" y1="448.36" x2="972.3" y2="448.36" stroke="#3f3f3f" stroke-width="1.3"/>
<line x1="934.9" y1="446.16" x2="934.9" y2="450.56" stroke="#3f3f3f" stroke-width="1.3"/>
<line x1="972.3" y1="446.16" x2="972.3" y2="450.56" stroke="#3f3f3f" stroke-width="1.3"/>
<rect x="949.0" y="444.36" width="9.50" height="8.0" fill="#e68193" stroke="#3f3f3f" stroke-width="1.1"/>
<line x1="955.1" y1="444.36" x2="955.1" y2="452.36" stroke="#3f3f3f" stroke-width="1.3"/>
<line x1="779.8" y1="448.36" x2="782.4" y2="448.36" stroke="#333333" stroke-width="0.9"/>
<text x="777.80" y="451.66" font-size="9.90" text-anchor="end" textLength="71.42" lengthAdjust="spacingAndGlyphs" fill="#1a1a1a">Flashbots: 0x81</text>
<line x1="950.8" y1="282.3" x2="950.8" y2="453.5" stroke="#111" stroke-width="1.5"/>
<path d="M782.4,282.3 V453.5 H1014.2" fill="none" stroke="#333333" stroke-width="0.9"/>
<line x1="782.24" y1="453.5" x2="782.24" y2="456.1" stroke="#333333" stroke-width="0.9"/>
<text x="782.24" y="464.70" font-size="9.90" text-anchor="middle" textLength="30.45" lengthAdjust="spacingAndGlyphs" fill="#1a1a1a">−8000</text>
<line x1="824.38" y1="453.5" x2="824.38" y2="456.1" stroke="#333333" stroke-width="0.9"/>
<text x="824.38" y="464.70" font-size="9.90" text-anchor="middle" textLength="30.45" lengthAdjust="spacingAndGlyphs" fill="#1a1a1a">−6000</text>
<line x1="866.52" y1="453.5" x2="866.52" y2="456.1" stroke="#333333" stroke-width="0.9"/>
<text x="866.52" y="464.70" font-size="9.90" text-anchor="middle" textLength="30.45" lengthAdjust="spacingAndGlyphs" fill="#1a1a1a">−4000</text>
<line x1="908.66" y1="453.5" x2="908.66" y2="456.1" stroke="#333333" stroke-width="0.9"/>
<text x="908.66" y="464.70" font-size="9.90" text-anchor="middle" textLength="30.45" lengthAdjust="spacingAndGlyphs" fill="#1a1a1a">−2000</text>
<line x1="950.80" y1="453.5" x2="950.80" y2="456.1" stroke="#333333" stroke-width="0.9"/>
<text x="950.80" y="464.70" font-size="9.90" text-anchor="middle" textLength="5.73" lengthAdjust="spacingAndGlyphs" fill="#1a1a1a">0</text>
<line x1="992.94" y1="453.5" x2="992.94" y2="456.1" stroke="#333333" stroke-width="0.9"/>
<text x="992.94" y="464.70" font-size="9.90" text-anchor="middle" textLength="22.90" lengthAdjust="spacingAndGlyphs" fill="#1a1a1a">2000</text>
<text x="898.30" y="477.00" font-size="11.50" text-anchor="middle" textLength="52.67" lengthAdjust="spacingAndGlyphs" fill="#1a1a1a">Time (ms)</text>
<text x="667.20" y="368.70" font-size="11.66" text-anchor="middle" textLength="43.01" lengthAdjust="spacingAndGlyphs" fill="#1a1a1a" transform="rotate(-90 667.20 368.70)">Builders</text></svg>
</body></html>
